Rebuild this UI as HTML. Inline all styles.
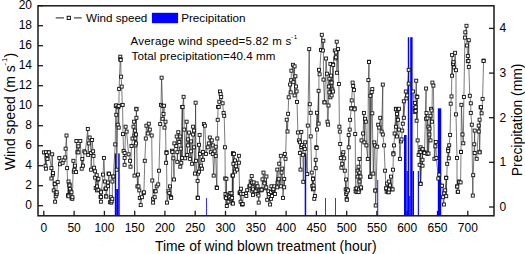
<!DOCTYPE html>
<html><head><meta charset="utf-8"><style>
html,body{margin:0;padding:0;background:#fff;width:525px;height:254px;overflow:hidden}
svg text{font-family:"Liberation Sans",sans-serif;fill:#000}
</style></head><body>
<svg width="525" height="254" viewBox="0 0 525 254" style="position:absolute;left:0;top:0">
<rect x="114.8" y="153.4" width="1.40" height="62.40" fill="#0000ff"/>
<rect x="116.2" y="189" width="2.00" height="26.80" fill="#0000ff"/>
<rect x="118.2" y="153.4" width="1.50" height="62.40" fill="#0000ff"/>
<rect x="206.2" y="198.0" width="0.80" height="17.80" fill="#0000ff"/>
<rect x="304.7" y="153.3" width="1.50" height="62.50" fill="#0000ff"/>
<rect x="325.2" y="198" width="0.80" height="17.80" fill="#0000ff"/>
<rect x="335.1" y="198" width="0.80" height="17.80" fill="#0000ff"/>
<rect x="377.3" y="180" width="0.90" height="35.80" fill="#0000ff"/>
<rect x="404.0" y="135" width="2.60" height="80.80" fill="#0000ff"/>
<rect x="406.6" y="171" width="1.20" height="44.80" fill="#0000ff"/>
<rect x="407.8" y="37.2" width="1.40" height="178.60" fill="#0000ff"/>
<rect x="409.2" y="196" width="1.00" height="19.80" fill="#0000ff"/>
<rect x="410.2" y="37.2" width="2.40" height="178.60" fill="#0000ff"/>
<rect x="412.6" y="171" width="1.40" height="44.80" fill="#0000ff"/>
<rect x="417.8" y="171" width="1.10" height="44.80" fill="#0000ff"/>
<rect x="437.8" y="108.3" width="3.40" height="107.50" fill="#0000ff"/>
<polyline points="43.9,152.4 45.5,165.7 45.9,152.2 45.9,168.7 46.9,154.9 47.4,158.9 48.8,152.2 48.8,152.4 51.4,168.1 51.4,178.5 52.2,154.3 52.8,174.6 53.0,173.0 53.7,190.4 54.7,183.5 54.8,184.1 55.1,201.7 55.7,192.4 55.7,196.3 56.6,194.2 56.7,192.3 57.7,182.1 59.3,157.9 60.0,164.2 62.6,162.8 63.6,160.2 65.2,157.5 65.6,148.7 66.5,135.5 67.1,168.1 68.1,195.4 68.5,181.5 68.5,195.0 68.5,196.3 69.5,184.5 69.5,185.4 69.9,189.0 70.7,191.5 71.5,192.3 71.6,198.3 72.3,198.8 72.4,197.2 73.4,160.8 73.8,171.7 74.4,169.7 75.0,165.7 76.1,172.1 76.4,141.0 77.4,152.2 78.4,146.3 78.4,152.4 80.3,141.0 81.7,168.7 82.3,158.9 82.9,165.7 84.3,151.3 85.2,152.4 87.8,129.0 88.2,154.9 88.8,143.4 89.6,137.5 91.1,153.0 91.1,169.7 92.1,140.0 93.1,151.3 93.5,155.9 94.1,167.7 95.1,171.3 95.1,177.6 95.7,188.0 96.7,175.2 97.0,186.4 97.0,190.4 98.0,179.5 98.4,178.8 98.4,189.8 100.6,196.9 100.9,196.9 100.9,201.7 101.0,191.5 101.0,192.3 101.0,196.9 103.0,174.6 103.9,157.9 104.9,181.5 105.4,188.9 105.9,188.4 105.9,196.3 106.3,196.5 107.9,182.5 108.1,186.2 108.5,173.6 109.0,173.8 109.9,202.2 110.8,197.2 111.3,202.6 111.6,201.3 112.3,198.8 112.4,181.5 112.8,176.6 113.4,176.5 115.2,144.4 115.8,106.0 116.3,105.3 116.3,114.8 116.7,169.7 117.7,124.7 118.3,107.2 118.7,106.0 118.7,127.6 119.1,88.9 120.3,56.7 120.3,59.3 120.7,60.0 121.1,76.7 121.7,86.6 122.3,105.0 122.6,104.9 123.0,134.1 123.6,150.9 124.6,153.0 124.6,157.9 124.6,164.8 125.6,126.7 126.6,131.6 128.6,154.3 130.1,160.8 130.5,166.7 131.5,146.0 132.5,138.5 133.5,126.7 134.1,121.7 134.5,135.5 134.5,175.6 134.9,130.6 135.4,138.5 135.4,145.4 136.0,134.5 136.0,143.4 136.4,108.8 136.4,109.3 136.4,117.8 137.4,186.4 138.0,174.6 138.5,186.4 139.3,190.4 139.8,197.9 140.7,205.1 141.9,197.2 143.6,193.1 143.9,192.3 144.8,160.8 145.8,138.5 146.4,125.7 147.8,133.5 148.8,123.7 149.8,129.6 151.7,135.5 152.3,180.5 153.1,198.8 153.1,202.6 154.7,197.2 155.0,191.2 155.7,191.3 156.7,186.4 158.2,184.4 159.0,170.7 160.2,124.1 161.0,104.9 161.6,77.7 162.6,106.0 162.6,118.8 163.5,113.9 164.1,105.7 164.5,127.6 165.5,121.7 166.1,162.8 166.5,152.2 166.5,153.0 167.0,202.6 168.5,191.3 169.3,193.1 170.0,186.4 170.8,196.9 171.2,197.9 172.0,150.7 172.4,152.0 173.4,158.3 174.0,179.5 174.4,143.4 176.3,145.9 176.7,136.5 177.3,152.2 177.3,161.8 178.3,132.2 179.3,142.0 180.3,136.5 180.3,166.7 180.7,148.7 181.3,162.8 182.2,106.9 182.2,157.9 182.6,107.0 183.6,96.8 184.2,129.6 185.2,158.3 186.6,121.7 187.2,154.9 188.1,139.4 188.1,145.4 189.1,132.6 190.1,158.9 191.1,141.4 191.1,151.3 192.1,163.8 193.1,126.7 193.1,134.5 194.1,130.6 194.1,147.3 195.0,173.6 195.6,102.7 196.0,160.8 197.6,180.9 197.6,197.6 197.9,197.9 198.0,173.6 199.0,144.8 199.0,171.7 199.6,134.9 200.0,153.9 200.9,165.7 201.9,168.7 202.9,151.9 202.9,159.8 203.9,124.1 204.9,125.7 205.9,153.9 207.8,147.3 208.8,143.4 209.8,137.5 210.8,152.2 211.8,140.4 212.8,145.4 212.8,153.9 213.7,175.6 214.7,151.3 215.7,146.7 215.7,155.9 216.7,187.4 216.9,188.0 217.3,138.5 217.7,119.8 218.1,106.9 218.7,107.0 219.3,101.7 220.0,91.5 220.6,93.9 221.2,97.0 222.6,103.3 223.6,112.9 224.2,115.8 225.0,147.3 225.2,178.5 225.5,194.0 225.6,197.2 226.1,198.1 226.4,178.8 226.8,206.0 227.4,201.7 227.5,195.3 228.4,201.6 229.2,195.3 229.5,197.2 230.2,193.1 230.8,199.2 231.5,193.3 232.1,197.9 232.4,175.6 232.4,203.2 233.0,153.2 233.0,153.9 233.0,175.5 233.0,203.6 233.4,163.8 234.0,153.9 235.0,160.4 235.0,171.6 235.9,166.3 236.9,169.6 238.9,155.8 238.9,162.7 239.6,193.1 239.9,192.2 240.6,201.7 240.9,188.7 241.1,193.7 241.9,204.3 242.5,204.5 242.6,204.0 243.4,194.0 245.9,193.6 246.3,196.0 247.2,190.2 249.3,186.3 250.1,185.5 250.7,181.4 251.7,176.1 251.7,190.7 252.0,182.6 252.7,187.3 253.0,189.3 253.0,194.9 253.7,182.4 255.6,191.3 256.6,183.4 256.8,187.4 257.6,186.3 257.7,194.0 258.5,195.5 258.7,202.6 259.6,190.3 261.5,189.3 261.5,190.3 261.6,189.7 262.5,179.4 263.5,172.6 264.4,182.6 264.5,183.4 265.5,188.3 266.3,187.4 266.4,176.5 267.2,199.8 268.4,191.3 269.1,194.0 270.1,204.5 271.0,198.8 271.1,192.0 271.4,186.3 272.0,196.0 273.0,190.2 273.3,190.3 273.4,188.9 274.3,186.3 274.9,194.0 277.3,169.6 277.3,187.3 277.7,182.6 278.3,180.4 278.7,178.8 279.2,163.7 280.8,155.8 280.8,186.3 281.6,172.6 282.2,168.6 283.0,197.9 284.2,178.9 284.2,187.3 284.8,153.9 285.5,158.8 286.7,119.7 287.5,131.5 288.1,113.8 288.7,97.3 290.1,84.5 290.7,92.4 291.1,80.2 291.4,70.7 293.0,64.8 293.4,82.2 294.6,66.4 294.6,95.4 295.4,76.3 296.0,86.5 296.6,91.4 297.0,101.9 297.9,132.5 298.9,140.4 299.9,142.3 299.9,152.9 300.5,169.6 301.3,131.9 301.3,147.0 301.9,144.9 302.9,154.8 303.3,181.8 303.9,147.2 304.8,148.9 305.2,142.3 307.2,174.1 307.8,125.6 309.2,49.1 309.8,104.2 310.7,112.8 310.7,136.4 311.7,172.6 312.3,186.0 313.0,178.4 313.0,189.3 313.1,178.9 313.5,185.5 313.7,188.7 314.3,198.8 314.9,196.0 315.7,159.8 315.7,168.2 316.3,147.2 316.6,148.0 317.0,112.8 317.0,129.5 318.6,90.8 318.6,123.6 319.0,69.8 319.6,74.3 321.0,49.9 321.8,34.8 322.9,50.5 323.3,40.7 323.5,79.6 324.5,102.2 324.5,102.4 326.1,58.5 326.9,73.7 327.5,121.7 328.1,124.6 328.5,105.5 328.9,86.5 329.4,78.6 329.4,92.4 330.4,63.9 330.4,82.6 330.4,97.3 331.0,75.7 331.6,82.6 331.6,95.4 332.4,89.5 333.0,64.3 333.0,91.5 333.2,64.9 334.8,50.5 335.5,58.4 335.9,57.3 336.1,52.5 336.7,41.7 336.9,72.8 338.1,49.1 338.9,84.0 339.4,126.7 339.8,131.6 340.2,144.0 340.8,157.9 341.4,167.7 342.2,163.8 342.8,153.9 343.4,152.2 344.2,158.3 344.8,170.7 345.7,189.4 346.1,179.5 346.2,194.0 346.7,192.3 346.7,198.8 346.8,189.3 346.8,199.8 348.1,190.4 348.7,134.9 348.7,147.3 349.7,129.6 350.1,119.8 351.3,108.2 351.3,108.5 351.7,100.4 352.6,82.6 353.2,86.0 354.0,89.9 354.6,108.2 354.6,109.3 355.2,134.1 355.6,191.3 355.7,188.7 356.6,188.4 356.7,192.1 357.6,170.7 357.6,176.6 358.5,166.7 358.5,191.7 358.6,192.1 359.1,189.4 359.5,158.9 359.5,172.6 359.5,181.5 360.5,176.6 360.9,188.3 361.1,187.4 361.5,140.4 363.1,133.5 363.9,112.9 364.4,142.4 365.0,118.8 365.8,121.7 366.4,145.4 367.8,158.9 368.4,80.1 369.0,61.7 369.0,62.0 370.0,176.9 370.4,95.8 370.4,176.6 371.7,91.9 372.3,89.1 372.3,113.3 373.3,173.6 374.3,142.4 374.9,145.4 375.3,190.4 375.3,190.6 375.7,205.5 377.2,146.7 378.2,124.7 379.2,127.6 380.2,117.8 381.6,131.6 382.8,84.6 382.8,134.5 384.1,145.4 385.1,170.7 386.1,188.4 386.2,188.3 386.7,191.7 387.1,183.5 388.1,192.1 388.7,192.3 389.1,181.5 389.1,189.4 390.0,185.4 391.0,176.6 391.9,189.3 392.6,189.4 393.0,169.7 393.4,153.2 393.4,154.3 394.0,145.4 394.6,133.5 395.9,108.8 395.9,109.3 395.9,126.7 396.9,113.9 396.9,136.5 397.9,109.3 397.9,119.8 398.9,108.8 398.9,129.6 399.9,158.9 400.9,141.4 401.6,139.4 402.2,130.6 402.8,123.7 403.8,101.3 403.8,117.8 405.8,91.5 406.4,98.4 407.2,95.4 408.7,69.8 408.7,83.6 413.1,91.5 414.6,108.0 414.7,111.9 415.0,102.9 415.6,107.2 415.6,110.9 416.2,80.7 416.6,96.4 416.6,120.7 417.3,97.0 417.6,140.4 418.6,154.9 419.6,152.2 419.6,164.8 420.5,183.6 420.6,147.3 420.6,152.0 420.6,183.9 422.5,149.3 422.5,159.8 422.5,165.7 422.6,149.2 424.5,152.2 424.5,153.0 426.1,88.5 426.1,118.8 426.5,112.9 427.4,153.9 427.5,118.4 428.4,126.7 428.5,153.5 429.4,134.5 429.5,128.6 430.5,115.8 430.5,140.4 431.1,108.8 431.5,110.5 431.9,121.7 432.4,82.6 433.4,85.6 434.4,158.8 435.4,146.3 435.8,142.0 436.4,157.9 438.3,178.5 439.3,174.6 441.3,185.8 442.1,185.7 442.9,197.2 443.9,204.5 444.2,193.3 445.2,190.3 446.2,177.7 446.2,177.9 446.2,196.2 447.2,163.8 448.2,149.2 448.2,151.0 448.8,158.3 449.2,145.3 450.1,134.9 450.7,103.7 451.5,96.4 452.1,54.9 452.1,75.7 453.1,63.9 453.5,62.2 454.1,67.5 455.1,52.8 456.0,70.2 456.0,114.4 457.0,157.9 457.0,186.4 457.3,186.6 457.7,192.0 458.0,191.7 459.0,181.5 459.1,182.2 460.6,182.4 461.0,151.8 461.0,152.0 461.4,104.8 462.5,134.5 463.3,143.3 463.9,97.0 464.9,37.6 465.3,32.3 466.5,25.8 466.9,45.5 467.8,55.9 467.8,61.2 468.4,61.0 468.8,40.2 468.8,66.9 469.8,95.8 470.8,103.3 470.8,112.9 471.8,124.7 472.8,195.6 473.2,175.2 474.3,144.3 474.7,130.6 474.7,153.0 476.7,158.8 478.7,125.6 478.7,131.5 479.6,119.7 479.6,151.8 479.6,152.4 480.6,107.4 481.0,107.2 481.6,113.3 482.6,98.9 483.6,60.6 483.6,61.0" fill="none" stroke="#222" stroke-width="0.6"/>
<rect x="42.4" y="150.9" width="3.0" height="3.0" fill="#fff" stroke="#111" stroke-width="0.9"/>
<rect x="44.0" y="164.2" width="3.0" height="3.0" fill="#fff" stroke="#111" stroke-width="0.9"/>
<rect x="44.4" y="150.7" width="3.0" height="3.0" fill="#fff" stroke="#111" stroke-width="0.9"/>
<rect x="44.4" y="167.2" width="3.0" height="3.0" fill="#fff" stroke="#111" stroke-width="0.9"/>
<rect x="45.4" y="153.4" width="3.0" height="3.0" fill="#fff" stroke="#111" stroke-width="0.9"/>
<rect x="45.9" y="157.4" width="3.0" height="3.0" fill="#fff" stroke="#111" stroke-width="0.9"/>
<rect x="47.3" y="150.7" width="3.0" height="3.0" fill="#fff" stroke="#111" stroke-width="0.9"/>
<rect x="47.3" y="150.9" width="3.0" height="3.0" fill="#fff" stroke="#111" stroke-width="0.9"/>
<rect x="49.9" y="166.6" width="3.0" height="3.0" fill="#fff" stroke="#111" stroke-width="0.9"/>
<rect x="49.9" y="177.0" width="3.0" height="3.0" fill="#fff" stroke="#111" stroke-width="0.9"/>
<rect x="50.7" y="152.8" width="3.0" height="3.0" fill="#fff" stroke="#111" stroke-width="0.9"/>
<rect x="51.3" y="173.1" width="3.0" height="3.0" fill="#fff" stroke="#111" stroke-width="0.9"/>
<rect x="51.5" y="171.5" width="3.0" height="3.0" fill="#fff" stroke="#111" stroke-width="0.9"/>
<rect x="52.2" y="188.9" width="3.0" height="3.0" fill="#fff" stroke="#111" stroke-width="0.9"/>
<rect x="53.2" y="182.0" width="3.0" height="3.0" fill="#fff" stroke="#111" stroke-width="0.9"/>
<rect x="53.3" y="182.6" width="3.0" height="3.0" fill="#fff" stroke="#111" stroke-width="0.9"/>
<rect x="53.6" y="200.2" width="3.0" height="3.0" fill="#fff" stroke="#111" stroke-width="0.9"/>
<rect x="54.2" y="190.9" width="3.0" height="3.0" fill="#fff" stroke="#111" stroke-width="0.9"/>
<rect x="54.2" y="194.8" width="3.0" height="3.0" fill="#fff" stroke="#111" stroke-width="0.9"/>
<rect x="55.1" y="192.7" width="3.0" height="3.0" fill="#fff" stroke="#111" stroke-width="0.9"/>
<rect x="55.2" y="190.8" width="3.0" height="3.0" fill="#fff" stroke="#111" stroke-width="0.9"/>
<rect x="56.2" y="180.6" width="3.0" height="3.0" fill="#fff" stroke="#111" stroke-width="0.9"/>
<rect x="57.8" y="156.4" width="3.0" height="3.0" fill="#fff" stroke="#111" stroke-width="0.9"/>
<rect x="58.5" y="162.7" width="3.0" height="3.0" fill="#fff" stroke="#111" stroke-width="0.9"/>
<rect x="61.1" y="161.3" width="3.0" height="3.0" fill="#fff" stroke="#111" stroke-width="0.9"/>
<rect x="62.1" y="158.7" width="3.0" height="3.0" fill="#fff" stroke="#111" stroke-width="0.9"/>
<rect x="63.7" y="156.0" width="3.0" height="3.0" fill="#fff" stroke="#111" stroke-width="0.9"/>
<rect x="64.1" y="147.2" width="3.0" height="3.0" fill="#fff" stroke="#111" stroke-width="0.9"/>
<rect x="65.0" y="134.0" width="3.0" height="3.0" fill="#fff" stroke="#111" stroke-width="0.9"/>
<rect x="65.6" y="166.6" width="3.0" height="3.0" fill="#fff" stroke="#111" stroke-width="0.9"/>
<rect x="66.6" y="193.9" width="3.0" height="3.0" fill="#fff" stroke="#111" stroke-width="0.9"/>
<rect x="67.0" y="180.0" width="3.0" height="3.0" fill="#fff" stroke="#111" stroke-width="0.9"/>
<rect x="67.0" y="193.5" width="3.0" height="3.0" fill="#fff" stroke="#111" stroke-width="0.9"/>
<rect x="67.0" y="194.8" width="3.0" height="3.0" fill="#fff" stroke="#111" stroke-width="0.9"/>
<rect x="68.0" y="183.0" width="3.0" height="3.0" fill="#fff" stroke="#111" stroke-width="0.9"/>
<rect x="68.0" y="183.9" width="3.0" height="3.0" fill="#fff" stroke="#111" stroke-width="0.9"/>
<rect x="68.4" y="187.5" width="3.0" height="3.0" fill="#fff" stroke="#111" stroke-width="0.9"/>
<rect x="69.2" y="190.0" width="3.0" height="3.0" fill="#fff" stroke="#111" stroke-width="0.9"/>
<rect x="70.0" y="190.8" width="3.0" height="3.0" fill="#fff" stroke="#111" stroke-width="0.9"/>
<rect x="70.1" y="196.8" width="3.0" height="3.0" fill="#fff" stroke="#111" stroke-width="0.9"/>
<rect x="70.8" y="197.3" width="3.0" height="3.0" fill="#fff" stroke="#111" stroke-width="0.9"/>
<rect x="70.9" y="195.7" width="3.0" height="3.0" fill="#fff" stroke="#111" stroke-width="0.9"/>
<rect x="71.9" y="159.3" width="3.0" height="3.0" fill="#fff" stroke="#111" stroke-width="0.9"/>
<rect x="72.3" y="170.2" width="3.0" height="3.0" fill="#fff" stroke="#111" stroke-width="0.9"/>
<rect x="72.9" y="168.2" width="3.0" height="3.0" fill="#fff" stroke="#111" stroke-width="0.9"/>
<rect x="73.5" y="164.2" width="3.0" height="3.0" fill="#fff" stroke="#111" stroke-width="0.9"/>
<rect x="74.6" y="170.6" width="3.0" height="3.0" fill="#fff" stroke="#111" stroke-width="0.9"/>
<rect x="74.9" y="139.5" width="3.0" height="3.0" fill="#fff" stroke="#111" stroke-width="0.9"/>
<rect x="75.9" y="150.7" width="3.0" height="3.0" fill="#fff" stroke="#111" stroke-width="0.9"/>
<rect x="76.9" y="144.8" width="3.0" height="3.0" fill="#fff" stroke="#111" stroke-width="0.9"/>
<rect x="76.9" y="150.9" width="3.0" height="3.0" fill="#fff" stroke="#111" stroke-width="0.9"/>
<rect x="78.8" y="139.5" width="3.0" height="3.0" fill="#fff" stroke="#111" stroke-width="0.9"/>
<rect x="80.2" y="167.2" width="3.0" height="3.0" fill="#fff" stroke="#111" stroke-width="0.9"/>
<rect x="80.8" y="157.4" width="3.0" height="3.0" fill="#fff" stroke="#111" stroke-width="0.9"/>
<rect x="81.4" y="164.2" width="3.0" height="3.0" fill="#fff" stroke="#111" stroke-width="0.9"/>
<rect x="82.8" y="149.8" width="3.0" height="3.0" fill="#fff" stroke="#111" stroke-width="0.9"/>
<rect x="83.7" y="150.9" width="3.0" height="3.0" fill="#fff" stroke="#111" stroke-width="0.9"/>
<rect x="86.3" y="127.5" width="3.0" height="3.0" fill="#fff" stroke="#111" stroke-width="0.9"/>
<rect x="86.7" y="153.4" width="3.0" height="3.0" fill="#fff" stroke="#111" stroke-width="0.9"/>
<rect x="87.3" y="141.9" width="3.0" height="3.0" fill="#fff" stroke="#111" stroke-width="0.9"/>
<rect x="88.1" y="136.0" width="3.0" height="3.0" fill="#fff" stroke="#111" stroke-width="0.9"/>
<rect x="89.6" y="151.5" width="3.0" height="3.0" fill="#fff" stroke="#111" stroke-width="0.9"/>
<rect x="89.6" y="168.2" width="3.0" height="3.0" fill="#fff" stroke="#111" stroke-width="0.9"/>
<rect x="90.6" y="138.5" width="3.0" height="3.0" fill="#fff" stroke="#111" stroke-width="0.9"/>
<rect x="91.6" y="149.8" width="3.0" height="3.0" fill="#fff" stroke="#111" stroke-width="0.9"/>
<rect x="92.0" y="154.4" width="3.0" height="3.0" fill="#fff" stroke="#111" stroke-width="0.9"/>
<rect x="92.6" y="166.2" width="3.0" height="3.0" fill="#fff" stroke="#111" stroke-width="0.9"/>
<rect x="93.6" y="169.8" width="3.0" height="3.0" fill="#fff" stroke="#111" stroke-width="0.9"/>
<rect x="93.6" y="176.1" width="3.0" height="3.0" fill="#fff" stroke="#111" stroke-width="0.9"/>
<rect x="94.2" y="186.5" width="3.0" height="3.0" fill="#fff" stroke="#111" stroke-width="0.9"/>
<rect x="95.2" y="173.7" width="3.0" height="3.0" fill="#fff" stroke="#111" stroke-width="0.9"/>
<rect x="95.5" y="184.9" width="3.0" height="3.0" fill="#fff" stroke="#111" stroke-width="0.9"/>
<rect x="95.5" y="188.9" width="3.0" height="3.0" fill="#fff" stroke="#111" stroke-width="0.9"/>
<rect x="96.5" y="178.0" width="3.0" height="3.0" fill="#fff" stroke="#111" stroke-width="0.9"/>
<rect x="96.9" y="177.3" width="3.0" height="3.0" fill="#fff" stroke="#111" stroke-width="0.9"/>
<rect x="96.9" y="188.3" width="3.0" height="3.0" fill="#fff" stroke="#111" stroke-width="0.9"/>
<rect x="99.1" y="195.4" width="3.0" height="3.0" fill="#fff" stroke="#111" stroke-width="0.9"/>
<rect x="99.4" y="195.4" width="3.0" height="3.0" fill="#fff" stroke="#111" stroke-width="0.9"/>
<rect x="99.4" y="200.2" width="3.0" height="3.0" fill="#fff" stroke="#111" stroke-width="0.9"/>
<rect x="99.5" y="190.0" width="3.0" height="3.0" fill="#fff" stroke="#111" stroke-width="0.9"/>
<rect x="99.5" y="190.8" width="3.0" height="3.0" fill="#fff" stroke="#111" stroke-width="0.9"/>
<rect x="99.5" y="195.4" width="3.0" height="3.0" fill="#fff" stroke="#111" stroke-width="0.9"/>
<rect x="101.5" y="173.1" width="3.0" height="3.0" fill="#fff" stroke="#111" stroke-width="0.9"/>
<rect x="102.4" y="156.4" width="3.0" height="3.0" fill="#fff" stroke="#111" stroke-width="0.9"/>
<rect x="103.4" y="180.0" width="3.0" height="3.0" fill="#fff" stroke="#111" stroke-width="0.9"/>
<rect x="103.9" y="187.4" width="3.0" height="3.0" fill="#fff" stroke="#111" stroke-width="0.9"/>
<rect x="104.4" y="186.9" width="3.0" height="3.0" fill="#fff" stroke="#111" stroke-width="0.9"/>
<rect x="104.4" y="194.8" width="3.0" height="3.0" fill="#fff" stroke="#111" stroke-width="0.9"/>
<rect x="104.8" y="195.0" width="3.0" height="3.0" fill="#fff" stroke="#111" stroke-width="0.9"/>
<rect x="106.4" y="181.0" width="3.0" height="3.0" fill="#fff" stroke="#111" stroke-width="0.9"/>
<rect x="106.6" y="184.7" width="3.0" height="3.0" fill="#fff" stroke="#111" stroke-width="0.9"/>
<rect x="107.0" y="172.1" width="3.0" height="3.0" fill="#fff" stroke="#111" stroke-width="0.9"/>
<rect x="107.5" y="172.3" width="3.0" height="3.0" fill="#fff" stroke="#111" stroke-width="0.9"/>
<rect x="108.4" y="200.7" width="3.0" height="3.0" fill="#fff" stroke="#111" stroke-width="0.9"/>
<rect x="109.3" y="195.7" width="3.0" height="3.0" fill="#fff" stroke="#111" stroke-width="0.9"/>
<rect x="109.8" y="201.1" width="3.0" height="3.0" fill="#fff" stroke="#111" stroke-width="0.9"/>
<rect x="110.1" y="199.8" width="3.0" height="3.0" fill="#fff" stroke="#111" stroke-width="0.9"/>
<rect x="110.8" y="197.3" width="3.0" height="3.0" fill="#fff" stroke="#111" stroke-width="0.9"/>
<rect x="110.9" y="180.0" width="3.0" height="3.0" fill="#fff" stroke="#111" stroke-width="0.9"/>
<rect x="111.3" y="175.1" width="3.0" height="3.0" fill="#fff" stroke="#111" stroke-width="0.9"/>
<rect x="111.9" y="175.0" width="3.0" height="3.0" fill="#fff" stroke="#111" stroke-width="0.9"/>
<rect x="113.7" y="142.9" width="3.0" height="3.0" fill="#fff" stroke="#111" stroke-width="0.9"/>
<rect x="114.3" y="104.5" width="3.0" height="3.0" fill="#fff" stroke="#111" stroke-width="0.9"/>
<rect x="114.8" y="103.8" width="3.0" height="3.0" fill="#fff" stroke="#111" stroke-width="0.9"/>
<rect x="114.8" y="113.3" width="3.0" height="3.0" fill="#fff" stroke="#111" stroke-width="0.9"/>
<rect x="115.2" y="168.2" width="3.0" height="3.0" fill="#fff" stroke="#111" stroke-width="0.9"/>
<rect x="116.2" y="123.2" width="3.0" height="3.0" fill="#fff" stroke="#111" stroke-width="0.9"/>
<rect x="116.8" y="105.7" width="3.0" height="3.0" fill="#fff" stroke="#111" stroke-width="0.9"/>
<rect x="117.2" y="104.5" width="3.0" height="3.0" fill="#fff" stroke="#111" stroke-width="0.9"/>
<rect x="117.2" y="126.1" width="3.0" height="3.0" fill="#fff" stroke="#111" stroke-width="0.9"/>
<rect x="117.6" y="87.4" width="3.0" height="3.0" fill="#fff" stroke="#111" stroke-width="0.9"/>
<rect x="118.8" y="55.2" width="3.0" height="3.0" fill="#fff" stroke="#111" stroke-width="0.9"/>
<rect x="118.8" y="57.8" width="3.0" height="3.0" fill="#fff" stroke="#111" stroke-width="0.9"/>
<rect x="119.2" y="58.5" width="3.0" height="3.0" fill="#fff" stroke="#111" stroke-width="0.9"/>
<rect x="119.6" y="75.2" width="3.0" height="3.0" fill="#fff" stroke="#111" stroke-width="0.9"/>
<rect x="120.2" y="85.1" width="3.0" height="3.0" fill="#fff" stroke="#111" stroke-width="0.9"/>
<rect x="120.8" y="103.5" width="3.0" height="3.0" fill="#fff" stroke="#111" stroke-width="0.9"/>
<rect x="121.1" y="103.4" width="3.0" height="3.0" fill="#fff" stroke="#111" stroke-width="0.9"/>
<rect x="121.5" y="132.6" width="3.0" height="3.0" fill="#fff" stroke="#111" stroke-width="0.9"/>
<rect x="122.1" y="149.4" width="3.0" height="3.0" fill="#fff" stroke="#111" stroke-width="0.9"/>
<rect x="123.1" y="151.5" width="3.0" height="3.0" fill="#fff" stroke="#111" stroke-width="0.9"/>
<rect x="123.1" y="156.4" width="3.0" height="3.0" fill="#fff" stroke="#111" stroke-width="0.9"/>
<rect x="123.1" y="163.3" width="3.0" height="3.0" fill="#fff" stroke="#111" stroke-width="0.9"/>
<rect x="124.1" y="125.2" width="3.0" height="3.0" fill="#fff" stroke="#111" stroke-width="0.9"/>
<rect x="125.1" y="130.1" width="3.0" height="3.0" fill="#fff" stroke="#111" stroke-width="0.9"/>
<rect x="127.1" y="152.8" width="3.0" height="3.0" fill="#fff" stroke="#111" stroke-width="0.9"/>
<rect x="128.6" y="159.3" width="3.0" height="3.0" fill="#fff" stroke="#111" stroke-width="0.9"/>
<rect x="129.0" y="165.2" width="3.0" height="3.0" fill="#fff" stroke="#111" stroke-width="0.9"/>
<rect x="130.0" y="144.5" width="3.0" height="3.0" fill="#fff" stroke="#111" stroke-width="0.9"/>
<rect x="131.0" y="137.0" width="3.0" height="3.0" fill="#fff" stroke="#111" stroke-width="0.9"/>
<rect x="132.0" y="125.2" width="3.0" height="3.0" fill="#fff" stroke="#111" stroke-width="0.9"/>
<rect x="132.6" y="120.2" width="3.0" height="3.0" fill="#fff" stroke="#111" stroke-width="0.9"/>
<rect x="133.0" y="134.0" width="3.0" height="3.0" fill="#fff" stroke="#111" stroke-width="0.9"/>
<rect x="133.0" y="174.1" width="3.0" height="3.0" fill="#fff" stroke="#111" stroke-width="0.9"/>
<rect x="133.4" y="129.1" width="3.0" height="3.0" fill="#fff" stroke="#111" stroke-width="0.9"/>
<rect x="133.9" y="137.0" width="3.0" height="3.0" fill="#fff" stroke="#111" stroke-width="0.9"/>
<rect x="133.9" y="143.9" width="3.0" height="3.0" fill="#fff" stroke="#111" stroke-width="0.9"/>
<rect x="134.5" y="133.0" width="3.0" height="3.0" fill="#fff" stroke="#111" stroke-width="0.9"/>
<rect x="134.5" y="141.9" width="3.0" height="3.0" fill="#fff" stroke="#111" stroke-width="0.9"/>
<rect x="134.9" y="107.3" width="3.0" height="3.0" fill="#fff" stroke="#111" stroke-width="0.9"/>
<rect x="134.9" y="107.8" width="3.0" height="3.0" fill="#fff" stroke="#111" stroke-width="0.9"/>
<rect x="134.9" y="116.3" width="3.0" height="3.0" fill="#fff" stroke="#111" stroke-width="0.9"/>
<rect x="135.9" y="184.9" width="3.0" height="3.0" fill="#fff" stroke="#111" stroke-width="0.9"/>
<rect x="136.5" y="173.1" width="3.0" height="3.0" fill="#fff" stroke="#111" stroke-width="0.9"/>
<rect x="137.0" y="184.9" width="3.0" height="3.0" fill="#fff" stroke="#111" stroke-width="0.9"/>
<rect x="137.8" y="188.9" width="3.0" height="3.0" fill="#fff" stroke="#111" stroke-width="0.9"/>
<rect x="138.3" y="196.4" width="3.0" height="3.0" fill="#fff" stroke="#111" stroke-width="0.9"/>
<rect x="139.2" y="203.6" width="3.0" height="3.0" fill="#fff" stroke="#111" stroke-width="0.9"/>
<rect x="140.4" y="195.7" width="3.0" height="3.0" fill="#fff" stroke="#111" stroke-width="0.9"/>
<rect x="142.1" y="191.6" width="3.0" height="3.0" fill="#fff" stroke="#111" stroke-width="0.9"/>
<rect x="142.4" y="190.8" width="3.0" height="3.0" fill="#fff" stroke="#111" stroke-width="0.9"/>
<rect x="143.3" y="159.3" width="3.0" height="3.0" fill="#fff" stroke="#111" stroke-width="0.9"/>
<rect x="144.3" y="137.0" width="3.0" height="3.0" fill="#fff" stroke="#111" stroke-width="0.9"/>
<rect x="144.9" y="124.2" width="3.0" height="3.0" fill="#fff" stroke="#111" stroke-width="0.9"/>
<rect x="146.3" y="132.0" width="3.0" height="3.0" fill="#fff" stroke="#111" stroke-width="0.9"/>
<rect x="147.3" y="122.2" width="3.0" height="3.0" fill="#fff" stroke="#111" stroke-width="0.9"/>
<rect x="148.3" y="128.1" width="3.0" height="3.0" fill="#fff" stroke="#111" stroke-width="0.9"/>
<rect x="150.2" y="134.0" width="3.0" height="3.0" fill="#fff" stroke="#111" stroke-width="0.9"/>
<rect x="150.8" y="179.0" width="3.0" height="3.0" fill="#fff" stroke="#111" stroke-width="0.9"/>
<rect x="151.6" y="197.3" width="3.0" height="3.0" fill="#fff" stroke="#111" stroke-width="0.9"/>
<rect x="151.6" y="201.1" width="3.0" height="3.0" fill="#fff" stroke="#111" stroke-width="0.9"/>
<rect x="153.2" y="195.7" width="3.0" height="3.0" fill="#fff" stroke="#111" stroke-width="0.9"/>
<rect x="153.5" y="189.7" width="3.0" height="3.0" fill="#fff" stroke="#111" stroke-width="0.9"/>
<rect x="154.2" y="189.8" width="3.0" height="3.0" fill="#fff" stroke="#111" stroke-width="0.9"/>
<rect x="155.2" y="184.9" width="3.0" height="3.0" fill="#fff" stroke="#111" stroke-width="0.9"/>
<rect x="156.7" y="182.9" width="3.0" height="3.0" fill="#fff" stroke="#111" stroke-width="0.9"/>
<rect x="157.5" y="169.2" width="3.0" height="3.0" fill="#fff" stroke="#111" stroke-width="0.9"/>
<rect x="158.7" y="122.6" width="3.0" height="3.0" fill="#fff" stroke="#111" stroke-width="0.9"/>
<rect x="159.5" y="103.4" width="3.0" height="3.0" fill="#fff" stroke="#111" stroke-width="0.9"/>
<rect x="160.1" y="76.2" width="3.0" height="3.0" fill="#fff" stroke="#111" stroke-width="0.9"/>
<rect x="161.1" y="104.5" width="3.0" height="3.0" fill="#fff" stroke="#111" stroke-width="0.9"/>
<rect x="161.1" y="117.3" width="3.0" height="3.0" fill="#fff" stroke="#111" stroke-width="0.9"/>
<rect x="162.0" y="112.4" width="3.0" height="3.0" fill="#fff" stroke="#111" stroke-width="0.9"/>
<rect x="162.6" y="104.2" width="3.0" height="3.0" fill="#fff" stroke="#111" stroke-width="0.9"/>
<rect x="163.0" y="126.1" width="3.0" height="3.0" fill="#fff" stroke="#111" stroke-width="0.9"/>
<rect x="164.0" y="120.2" width="3.0" height="3.0" fill="#fff" stroke="#111" stroke-width="0.9"/>
<rect x="164.6" y="161.3" width="3.0" height="3.0" fill="#fff" stroke="#111" stroke-width="0.9"/>
<rect x="165.0" y="150.7" width="3.0" height="3.0" fill="#fff" stroke="#111" stroke-width="0.9"/>
<rect x="165.0" y="151.5" width="3.0" height="3.0" fill="#fff" stroke="#111" stroke-width="0.9"/>
<rect x="165.5" y="201.1" width="3.0" height="3.0" fill="#fff" stroke="#111" stroke-width="0.9"/>
<rect x="167.0" y="189.8" width="3.0" height="3.0" fill="#fff" stroke="#111" stroke-width="0.9"/>
<rect x="167.8" y="191.6" width="3.0" height="3.0" fill="#fff" stroke="#111" stroke-width="0.9"/>
<rect x="168.5" y="184.9" width="3.0" height="3.0" fill="#fff" stroke="#111" stroke-width="0.9"/>
<rect x="169.3" y="195.4" width="3.0" height="3.0" fill="#fff" stroke="#111" stroke-width="0.9"/>
<rect x="169.7" y="196.4" width="3.0" height="3.0" fill="#fff" stroke="#111" stroke-width="0.9"/>
<rect x="170.5" y="149.2" width="3.0" height="3.0" fill="#fff" stroke="#111" stroke-width="0.9"/>
<rect x="170.9" y="150.5" width="3.0" height="3.0" fill="#fff" stroke="#111" stroke-width="0.9"/>
<rect x="171.9" y="156.8" width="3.0" height="3.0" fill="#fff" stroke="#111" stroke-width="0.9"/>
<rect x="172.5" y="178.0" width="3.0" height="3.0" fill="#fff" stroke="#111" stroke-width="0.9"/>
<rect x="172.9" y="141.9" width="3.0" height="3.0" fill="#fff" stroke="#111" stroke-width="0.9"/>
<rect x="174.8" y="144.4" width="3.0" height="3.0" fill="#fff" stroke="#111" stroke-width="0.9"/>
<rect x="175.2" y="135.0" width="3.0" height="3.0" fill="#fff" stroke="#111" stroke-width="0.9"/>
<rect x="175.8" y="150.7" width="3.0" height="3.0" fill="#fff" stroke="#111" stroke-width="0.9"/>
<rect x="175.8" y="160.3" width="3.0" height="3.0" fill="#fff" stroke="#111" stroke-width="0.9"/>
<rect x="176.8" y="130.7" width="3.0" height="3.0" fill="#fff" stroke="#111" stroke-width="0.9"/>
<rect x="177.8" y="140.5" width="3.0" height="3.0" fill="#fff" stroke="#111" stroke-width="0.9"/>
<rect x="178.8" y="135.0" width="3.0" height="3.0" fill="#fff" stroke="#111" stroke-width="0.9"/>
<rect x="178.8" y="165.2" width="3.0" height="3.0" fill="#fff" stroke="#111" stroke-width="0.9"/>
<rect x="179.2" y="147.2" width="3.0" height="3.0" fill="#fff" stroke="#111" stroke-width="0.9"/>
<rect x="179.8" y="161.3" width="3.0" height="3.0" fill="#fff" stroke="#111" stroke-width="0.9"/>
<rect x="180.7" y="105.4" width="3.0" height="3.0" fill="#fff" stroke="#111" stroke-width="0.9"/>
<rect x="180.7" y="156.4" width="3.0" height="3.0" fill="#fff" stroke="#111" stroke-width="0.9"/>
<rect x="181.1" y="105.5" width="3.0" height="3.0" fill="#fff" stroke="#111" stroke-width="0.9"/>
<rect x="182.1" y="95.3" width="3.0" height="3.0" fill="#fff" stroke="#111" stroke-width="0.9"/>
<rect x="182.7" y="128.1" width="3.0" height="3.0" fill="#fff" stroke="#111" stroke-width="0.9"/>
<rect x="183.7" y="156.8" width="3.0" height="3.0" fill="#fff" stroke="#111" stroke-width="0.9"/>
<rect x="185.1" y="120.2" width="3.0" height="3.0" fill="#fff" stroke="#111" stroke-width="0.9"/>
<rect x="185.7" y="153.4" width="3.0" height="3.0" fill="#fff" stroke="#111" stroke-width="0.9"/>
<rect x="186.6" y="137.9" width="3.0" height="3.0" fill="#fff" stroke="#111" stroke-width="0.9"/>
<rect x="186.6" y="143.9" width="3.0" height="3.0" fill="#fff" stroke="#111" stroke-width="0.9"/>
<rect x="187.6" y="131.1" width="3.0" height="3.0" fill="#fff" stroke="#111" stroke-width="0.9"/>
<rect x="188.6" y="157.4" width="3.0" height="3.0" fill="#fff" stroke="#111" stroke-width="0.9"/>
<rect x="189.6" y="139.9" width="3.0" height="3.0" fill="#fff" stroke="#111" stroke-width="0.9"/>
<rect x="189.6" y="149.8" width="3.0" height="3.0" fill="#fff" stroke="#111" stroke-width="0.9"/>
<rect x="190.6" y="162.3" width="3.0" height="3.0" fill="#fff" stroke="#111" stroke-width="0.9"/>
<rect x="191.6" y="125.2" width="3.0" height="3.0" fill="#fff" stroke="#111" stroke-width="0.9"/>
<rect x="191.6" y="133.0" width="3.0" height="3.0" fill="#fff" stroke="#111" stroke-width="0.9"/>
<rect x="192.6" y="129.1" width="3.0" height="3.0" fill="#fff" stroke="#111" stroke-width="0.9"/>
<rect x="192.6" y="145.8" width="3.0" height="3.0" fill="#fff" stroke="#111" stroke-width="0.9"/>
<rect x="193.5" y="172.1" width="3.0" height="3.0" fill="#fff" stroke="#111" stroke-width="0.9"/>
<rect x="194.1" y="101.2" width="3.0" height="3.0" fill="#fff" stroke="#111" stroke-width="0.9"/>
<rect x="194.5" y="159.3" width="3.0" height="3.0" fill="#fff" stroke="#111" stroke-width="0.9"/>
<rect x="196.1" y="179.4" width="3.0" height="3.0" fill="#fff" stroke="#111" stroke-width="0.9"/>
<rect x="196.1" y="196.1" width="3.0" height="3.0" fill="#fff" stroke="#111" stroke-width="0.9"/>
<rect x="196.4" y="196.4" width="3.0" height="3.0" fill="#fff" stroke="#111" stroke-width="0.9"/>
<rect x="196.5" y="172.1" width="3.0" height="3.0" fill="#fff" stroke="#111" stroke-width="0.9"/>
<rect x="197.5" y="143.3" width="3.0" height="3.0" fill="#fff" stroke="#111" stroke-width="0.9"/>
<rect x="197.5" y="170.2" width="3.0" height="3.0" fill="#fff" stroke="#111" stroke-width="0.9"/>
<rect x="198.1" y="133.4" width="3.0" height="3.0" fill="#fff" stroke="#111" stroke-width="0.9"/>
<rect x="198.5" y="152.4" width="3.0" height="3.0" fill="#fff" stroke="#111" stroke-width="0.9"/>
<rect x="199.4" y="164.2" width="3.0" height="3.0" fill="#fff" stroke="#111" stroke-width="0.9"/>
<rect x="200.4" y="167.2" width="3.0" height="3.0" fill="#fff" stroke="#111" stroke-width="0.9"/>
<rect x="201.4" y="150.4" width="3.0" height="3.0" fill="#fff" stroke="#111" stroke-width="0.9"/>
<rect x="201.4" y="158.3" width="3.0" height="3.0" fill="#fff" stroke="#111" stroke-width="0.9"/>
<rect x="202.4" y="122.6" width="3.0" height="3.0" fill="#fff" stroke="#111" stroke-width="0.9"/>
<rect x="203.4" y="124.2" width="3.0" height="3.0" fill="#fff" stroke="#111" stroke-width="0.9"/>
<rect x="204.4" y="152.4" width="3.0" height="3.0" fill="#fff" stroke="#111" stroke-width="0.9"/>
<rect x="206.3" y="145.8" width="3.0" height="3.0" fill="#fff" stroke="#111" stroke-width="0.9"/>
<rect x="207.3" y="141.9" width="3.0" height="3.0" fill="#fff" stroke="#111" stroke-width="0.9"/>
<rect x="208.3" y="136.0" width="3.0" height="3.0" fill="#fff" stroke="#111" stroke-width="0.9"/>
<rect x="209.3" y="150.7" width="3.0" height="3.0" fill="#fff" stroke="#111" stroke-width="0.9"/>
<rect x="210.3" y="138.9" width="3.0" height="3.0" fill="#fff" stroke="#111" stroke-width="0.9"/>
<rect x="211.3" y="143.9" width="3.0" height="3.0" fill="#fff" stroke="#111" stroke-width="0.9"/>
<rect x="211.3" y="152.4" width="3.0" height="3.0" fill="#fff" stroke="#111" stroke-width="0.9"/>
<rect x="212.2" y="174.1" width="3.0" height="3.0" fill="#fff" stroke="#111" stroke-width="0.9"/>
<rect x="213.2" y="149.8" width="3.0" height="3.0" fill="#fff" stroke="#111" stroke-width="0.9"/>
<rect x="214.2" y="145.2" width="3.0" height="3.0" fill="#fff" stroke="#111" stroke-width="0.9"/>
<rect x="214.2" y="154.4" width="3.0" height="3.0" fill="#fff" stroke="#111" stroke-width="0.9"/>
<rect x="215.2" y="185.9" width="3.0" height="3.0" fill="#fff" stroke="#111" stroke-width="0.9"/>
<rect x="215.4" y="186.5" width="3.0" height="3.0" fill="#fff" stroke="#111" stroke-width="0.9"/>
<rect x="215.8" y="137.0" width="3.0" height="3.0" fill="#fff" stroke="#111" stroke-width="0.9"/>
<rect x="216.2" y="118.3" width="3.0" height="3.0" fill="#fff" stroke="#111" stroke-width="0.9"/>
<rect x="216.6" y="105.4" width="3.0" height="3.0" fill="#fff" stroke="#111" stroke-width="0.9"/>
<rect x="217.2" y="105.5" width="3.0" height="3.0" fill="#fff" stroke="#111" stroke-width="0.9"/>
<rect x="217.8" y="100.2" width="3.0" height="3.0" fill="#fff" stroke="#111" stroke-width="0.9"/>
<rect x="218.5" y="90.0" width="3.0" height="3.0" fill="#fff" stroke="#111" stroke-width="0.9"/>
<rect x="219.1" y="92.4" width="3.0" height="3.0" fill="#fff" stroke="#111" stroke-width="0.9"/>
<rect x="219.7" y="95.5" width="3.0" height="3.0" fill="#fff" stroke="#111" stroke-width="0.9"/>
<rect x="221.1" y="101.8" width="3.0" height="3.0" fill="#fff" stroke="#111" stroke-width="0.9"/>
<rect x="222.1" y="111.4" width="3.0" height="3.0" fill="#fff" stroke="#111" stroke-width="0.9"/>
<rect x="222.7" y="114.3" width="3.0" height="3.0" fill="#fff" stroke="#111" stroke-width="0.9"/>
<rect x="223.5" y="145.8" width="3.0" height="3.0" fill="#fff" stroke="#111" stroke-width="0.9"/>
<rect x="223.7" y="177.0" width="3.0" height="3.0" fill="#fff" stroke="#111" stroke-width="0.9"/>
<rect x="224.0" y="192.5" width="3.0" height="3.0" fill="#fff" stroke="#111" stroke-width="0.9"/>
<rect x="224.1" y="195.7" width="3.0" height="3.0" fill="#fff" stroke="#111" stroke-width="0.9"/>
<rect x="224.6" y="196.6" width="3.0" height="3.0" fill="#fff" stroke="#111" stroke-width="0.9"/>
<rect x="224.9" y="177.3" width="3.0" height="3.0" fill="#fff" stroke="#111" stroke-width="0.9"/>
<rect x="225.3" y="204.5" width="3.0" height="3.0" fill="#fff" stroke="#111" stroke-width="0.9"/>
<rect x="225.9" y="200.2" width="3.0" height="3.0" fill="#fff" stroke="#111" stroke-width="0.9"/>
<rect x="226.0" y="193.8" width="3.0" height="3.0" fill="#fff" stroke="#111" stroke-width="0.9"/>
<rect x="226.9" y="200.1" width="3.0" height="3.0" fill="#fff" stroke="#111" stroke-width="0.9"/>
<rect x="227.7" y="193.8" width="3.0" height="3.0" fill="#fff" stroke="#111" stroke-width="0.9"/>
<rect x="228.0" y="195.7" width="3.0" height="3.0" fill="#fff" stroke="#111" stroke-width="0.9"/>
<rect x="228.7" y="191.6" width="3.0" height="3.0" fill="#fff" stroke="#111" stroke-width="0.9"/>
<rect x="229.3" y="197.7" width="3.0" height="3.0" fill="#fff" stroke="#111" stroke-width="0.9"/>
<rect x="230.0" y="191.8" width="3.0" height="3.0" fill="#fff" stroke="#111" stroke-width="0.9"/>
<rect x="230.6" y="196.4" width="3.0" height="3.0" fill="#fff" stroke="#111" stroke-width="0.9"/>
<rect x="230.9" y="174.1" width="3.0" height="3.0" fill="#fff" stroke="#111" stroke-width="0.9"/>
<rect x="230.9" y="201.7" width="3.0" height="3.0" fill="#fff" stroke="#111" stroke-width="0.9"/>
<rect x="231.5" y="151.7" width="3.0" height="3.0" fill="#fff" stroke="#111" stroke-width="0.9"/>
<rect x="231.5" y="152.4" width="3.0" height="3.0" fill="#fff" stroke="#111" stroke-width="0.9"/>
<rect x="231.5" y="174.0" width="3.0" height="3.0" fill="#fff" stroke="#111" stroke-width="0.9"/>
<rect x="231.5" y="202.1" width="3.0" height="3.0" fill="#fff" stroke="#111" stroke-width="0.9"/>
<rect x="231.9" y="162.3" width="3.0" height="3.0" fill="#fff" stroke="#111" stroke-width="0.9"/>
<rect x="232.5" y="152.4" width="3.0" height="3.0" fill="#fff" stroke="#111" stroke-width="0.9"/>
<rect x="233.5" y="158.9" width="3.0" height="3.0" fill="#fff" stroke="#111" stroke-width="0.9"/>
<rect x="233.5" y="170.1" width="3.0" height="3.0" fill="#fff" stroke="#111" stroke-width="0.9"/>
<rect x="234.4" y="164.8" width="3.0" height="3.0" fill="#fff" stroke="#111" stroke-width="0.9"/>
<rect x="235.4" y="168.1" width="3.0" height="3.0" fill="#fff" stroke="#111" stroke-width="0.9"/>
<rect x="237.4" y="154.3" width="3.0" height="3.0" fill="#fff" stroke="#111" stroke-width="0.9"/>
<rect x="237.4" y="161.2" width="3.0" height="3.0" fill="#fff" stroke="#111" stroke-width="0.9"/>
<rect x="238.1" y="191.6" width="3.0" height="3.0" fill="#fff" stroke="#111" stroke-width="0.9"/>
<rect x="238.4" y="190.7" width="3.0" height="3.0" fill="#fff" stroke="#111" stroke-width="0.9"/>
<rect x="239.1" y="200.2" width="3.0" height="3.0" fill="#fff" stroke="#111" stroke-width="0.9"/>
<rect x="239.4" y="187.2" width="3.0" height="3.0" fill="#fff" stroke="#111" stroke-width="0.9"/>
<rect x="239.6" y="192.2" width="3.0" height="3.0" fill="#fff" stroke="#111" stroke-width="0.9"/>
<rect x="240.4" y="202.8" width="3.0" height="3.0" fill="#fff" stroke="#111" stroke-width="0.9"/>
<rect x="241.0" y="203.0" width="3.0" height="3.0" fill="#fff" stroke="#111" stroke-width="0.9"/>
<rect x="241.1" y="202.5" width="3.0" height="3.0" fill="#fff" stroke="#111" stroke-width="0.9"/>
<rect x="241.9" y="192.5" width="3.0" height="3.0" fill="#fff" stroke="#111" stroke-width="0.9"/>
<rect x="244.4" y="192.1" width="3.0" height="3.0" fill="#fff" stroke="#111" stroke-width="0.9"/>
<rect x="244.8" y="194.5" width="3.0" height="3.0" fill="#fff" stroke="#111" stroke-width="0.9"/>
<rect x="245.7" y="188.7" width="3.0" height="3.0" fill="#fff" stroke="#111" stroke-width="0.9"/>
<rect x="247.8" y="184.8" width="3.0" height="3.0" fill="#fff" stroke="#111" stroke-width="0.9"/>
<rect x="248.6" y="184.0" width="3.0" height="3.0" fill="#fff" stroke="#111" stroke-width="0.9"/>
<rect x="249.2" y="179.9" width="3.0" height="3.0" fill="#fff" stroke="#111" stroke-width="0.9"/>
<rect x="250.2" y="174.6" width="3.0" height="3.0" fill="#fff" stroke="#111" stroke-width="0.9"/>
<rect x="250.2" y="189.2" width="3.0" height="3.0" fill="#fff" stroke="#111" stroke-width="0.9"/>
<rect x="250.5" y="181.1" width="3.0" height="3.0" fill="#fff" stroke="#111" stroke-width="0.9"/>
<rect x="251.2" y="185.8" width="3.0" height="3.0" fill="#fff" stroke="#111" stroke-width="0.9"/>
<rect x="251.5" y="187.8" width="3.0" height="3.0" fill="#fff" stroke="#111" stroke-width="0.9"/>
<rect x="251.5" y="193.4" width="3.0" height="3.0" fill="#fff" stroke="#111" stroke-width="0.9"/>
<rect x="252.2" y="180.9" width="3.0" height="3.0" fill="#fff" stroke="#111" stroke-width="0.9"/>
<rect x="254.1" y="189.8" width="3.0" height="3.0" fill="#fff" stroke="#111" stroke-width="0.9"/>
<rect x="255.1" y="181.9" width="3.0" height="3.0" fill="#fff" stroke="#111" stroke-width="0.9"/>
<rect x="255.3" y="185.9" width="3.0" height="3.0" fill="#fff" stroke="#111" stroke-width="0.9"/>
<rect x="256.1" y="184.8" width="3.0" height="3.0" fill="#fff" stroke="#111" stroke-width="0.9"/>
<rect x="256.2" y="192.5" width="3.0" height="3.0" fill="#fff" stroke="#111" stroke-width="0.9"/>
<rect x="257.0" y="194.0" width="3.0" height="3.0" fill="#fff" stroke="#111" stroke-width="0.9"/>
<rect x="257.2" y="201.1" width="3.0" height="3.0" fill="#fff" stroke="#111" stroke-width="0.9"/>
<rect x="258.1" y="188.8" width="3.0" height="3.0" fill="#fff" stroke="#111" stroke-width="0.9"/>
<rect x="260.0" y="187.8" width="3.0" height="3.0" fill="#fff" stroke="#111" stroke-width="0.9"/>
<rect x="260.0" y="188.8" width="3.0" height="3.0" fill="#fff" stroke="#111" stroke-width="0.9"/>
<rect x="260.1" y="188.2" width="3.0" height="3.0" fill="#fff" stroke="#111" stroke-width="0.9"/>
<rect x="261.0" y="177.9" width="3.0" height="3.0" fill="#fff" stroke="#111" stroke-width="0.9"/>
<rect x="262.0" y="171.1" width="3.0" height="3.0" fill="#fff" stroke="#111" stroke-width="0.9"/>
<rect x="262.9" y="181.1" width="3.0" height="3.0" fill="#fff" stroke="#111" stroke-width="0.9"/>
<rect x="263.0" y="181.9" width="3.0" height="3.0" fill="#fff" stroke="#111" stroke-width="0.9"/>
<rect x="264.0" y="186.8" width="3.0" height="3.0" fill="#fff" stroke="#111" stroke-width="0.9"/>
<rect x="264.8" y="185.9" width="3.0" height="3.0" fill="#fff" stroke="#111" stroke-width="0.9"/>
<rect x="264.9" y="175.0" width="3.0" height="3.0" fill="#fff" stroke="#111" stroke-width="0.9"/>
<rect x="265.7" y="198.3" width="3.0" height="3.0" fill="#fff" stroke="#111" stroke-width="0.9"/>
<rect x="266.9" y="189.8" width="3.0" height="3.0" fill="#fff" stroke="#111" stroke-width="0.9"/>
<rect x="267.6" y="192.5" width="3.0" height="3.0" fill="#fff" stroke="#111" stroke-width="0.9"/>
<rect x="268.6" y="203.0" width="3.0" height="3.0" fill="#fff" stroke="#111" stroke-width="0.9"/>
<rect x="269.5" y="197.3" width="3.0" height="3.0" fill="#fff" stroke="#111" stroke-width="0.9"/>
<rect x="269.6" y="190.5" width="3.0" height="3.0" fill="#fff" stroke="#111" stroke-width="0.9"/>
<rect x="269.9" y="184.8" width="3.0" height="3.0" fill="#fff" stroke="#111" stroke-width="0.9"/>
<rect x="270.5" y="194.5" width="3.0" height="3.0" fill="#fff" stroke="#111" stroke-width="0.9"/>
<rect x="271.5" y="188.7" width="3.0" height="3.0" fill="#fff" stroke="#111" stroke-width="0.9"/>
<rect x="271.8" y="188.8" width="3.0" height="3.0" fill="#fff" stroke="#111" stroke-width="0.9"/>
<rect x="271.9" y="187.4" width="3.0" height="3.0" fill="#fff" stroke="#111" stroke-width="0.9"/>
<rect x="272.8" y="184.8" width="3.0" height="3.0" fill="#fff" stroke="#111" stroke-width="0.9"/>
<rect x="273.4" y="192.5" width="3.0" height="3.0" fill="#fff" stroke="#111" stroke-width="0.9"/>
<rect x="275.8" y="168.1" width="3.0" height="3.0" fill="#fff" stroke="#111" stroke-width="0.9"/>
<rect x="275.8" y="185.8" width="3.0" height="3.0" fill="#fff" stroke="#111" stroke-width="0.9"/>
<rect x="276.2" y="181.1" width="3.0" height="3.0" fill="#fff" stroke="#111" stroke-width="0.9"/>
<rect x="276.8" y="178.9" width="3.0" height="3.0" fill="#fff" stroke="#111" stroke-width="0.9"/>
<rect x="277.2" y="177.3" width="3.0" height="3.0" fill="#fff" stroke="#111" stroke-width="0.9"/>
<rect x="277.7" y="162.2" width="3.0" height="3.0" fill="#fff" stroke="#111" stroke-width="0.9"/>
<rect x="279.3" y="154.3" width="3.0" height="3.0" fill="#fff" stroke="#111" stroke-width="0.9"/>
<rect x="279.3" y="184.8" width="3.0" height="3.0" fill="#fff" stroke="#111" stroke-width="0.9"/>
<rect x="280.1" y="171.1" width="3.0" height="3.0" fill="#fff" stroke="#111" stroke-width="0.9"/>
<rect x="280.7" y="167.1" width="3.0" height="3.0" fill="#fff" stroke="#111" stroke-width="0.9"/>
<rect x="281.5" y="196.4" width="3.0" height="3.0" fill="#fff" stroke="#111" stroke-width="0.9"/>
<rect x="282.7" y="177.4" width="3.0" height="3.0" fill="#fff" stroke="#111" stroke-width="0.9"/>
<rect x="282.7" y="185.8" width="3.0" height="3.0" fill="#fff" stroke="#111" stroke-width="0.9"/>
<rect x="283.3" y="152.4" width="3.0" height="3.0" fill="#fff" stroke="#111" stroke-width="0.9"/>
<rect x="284.0" y="157.3" width="3.0" height="3.0" fill="#fff" stroke="#111" stroke-width="0.9"/>
<rect x="285.2" y="118.2" width="3.0" height="3.0" fill="#fff" stroke="#111" stroke-width="0.9"/>
<rect x="286.0" y="130.0" width="3.0" height="3.0" fill="#fff" stroke="#111" stroke-width="0.9"/>
<rect x="286.6" y="112.3" width="3.0" height="3.0" fill="#fff" stroke="#111" stroke-width="0.9"/>
<rect x="287.2" y="95.8" width="3.0" height="3.0" fill="#fff" stroke="#111" stroke-width="0.9"/>
<rect x="288.6" y="83.0" width="3.0" height="3.0" fill="#fff" stroke="#111" stroke-width="0.9"/>
<rect x="289.2" y="90.9" width="3.0" height="3.0" fill="#fff" stroke="#111" stroke-width="0.9"/>
<rect x="289.6" y="78.7" width="3.0" height="3.0" fill="#fff" stroke="#111" stroke-width="0.9"/>
<rect x="289.9" y="69.2" width="3.0" height="3.0" fill="#fff" stroke="#111" stroke-width="0.9"/>
<rect x="291.5" y="63.3" width="3.0" height="3.0" fill="#fff" stroke="#111" stroke-width="0.9"/>
<rect x="291.9" y="80.7" width="3.0" height="3.0" fill="#fff" stroke="#111" stroke-width="0.9"/>
<rect x="293.1" y="64.9" width="3.0" height="3.0" fill="#fff" stroke="#111" stroke-width="0.9"/>
<rect x="293.1" y="93.9" width="3.0" height="3.0" fill="#fff" stroke="#111" stroke-width="0.9"/>
<rect x="293.9" y="74.8" width="3.0" height="3.0" fill="#fff" stroke="#111" stroke-width="0.9"/>
<rect x="294.5" y="85.0" width="3.0" height="3.0" fill="#fff" stroke="#111" stroke-width="0.9"/>
<rect x="295.1" y="89.9" width="3.0" height="3.0" fill="#fff" stroke="#111" stroke-width="0.9"/>
<rect x="295.5" y="100.4" width="3.0" height="3.0" fill="#fff" stroke="#111" stroke-width="0.9"/>
<rect x="296.4" y="131.0" width="3.0" height="3.0" fill="#fff" stroke="#111" stroke-width="0.9"/>
<rect x="297.4" y="138.9" width="3.0" height="3.0" fill="#fff" stroke="#111" stroke-width="0.9"/>
<rect x="298.4" y="140.8" width="3.0" height="3.0" fill="#fff" stroke="#111" stroke-width="0.9"/>
<rect x="298.4" y="151.4" width="3.0" height="3.0" fill="#fff" stroke="#111" stroke-width="0.9"/>
<rect x="299.0" y="168.1" width="3.0" height="3.0" fill="#fff" stroke="#111" stroke-width="0.9"/>
<rect x="299.8" y="130.4" width="3.0" height="3.0" fill="#fff" stroke="#111" stroke-width="0.9"/>
<rect x="299.8" y="145.5" width="3.0" height="3.0" fill="#fff" stroke="#111" stroke-width="0.9"/>
<rect x="300.4" y="143.4" width="3.0" height="3.0" fill="#fff" stroke="#111" stroke-width="0.9"/>
<rect x="301.4" y="153.3" width="3.0" height="3.0" fill="#fff" stroke="#111" stroke-width="0.9"/>
<rect x="301.8" y="180.3" width="3.0" height="3.0" fill="#fff" stroke="#111" stroke-width="0.9"/>
<rect x="302.4" y="145.7" width="3.0" height="3.0" fill="#fff" stroke="#111" stroke-width="0.9"/>
<rect x="303.3" y="147.4" width="3.0" height="3.0" fill="#fff" stroke="#111" stroke-width="0.9"/>
<rect x="303.7" y="140.8" width="3.0" height="3.0" fill="#fff" stroke="#111" stroke-width="0.9"/>
<rect x="305.7" y="172.6" width="3.0" height="3.0" fill="#fff" stroke="#111" stroke-width="0.9"/>
<rect x="306.3" y="124.1" width="3.0" height="3.0" fill="#fff" stroke="#111" stroke-width="0.9"/>
<rect x="307.7" y="47.6" width="3.0" height="3.0" fill="#fff" stroke="#111" stroke-width="0.9"/>
<rect x="308.3" y="102.7" width="3.0" height="3.0" fill="#fff" stroke="#111" stroke-width="0.9"/>
<rect x="309.2" y="111.3" width="3.0" height="3.0" fill="#fff" stroke="#111" stroke-width="0.9"/>
<rect x="309.2" y="134.9" width="3.0" height="3.0" fill="#fff" stroke="#111" stroke-width="0.9"/>
<rect x="310.2" y="171.1" width="3.0" height="3.0" fill="#fff" stroke="#111" stroke-width="0.9"/>
<rect x="310.8" y="184.5" width="3.0" height="3.0" fill="#fff" stroke="#111" stroke-width="0.9"/>
<rect x="311.5" y="176.9" width="3.0" height="3.0" fill="#fff" stroke="#111" stroke-width="0.9"/>
<rect x="311.5" y="187.8" width="3.0" height="3.0" fill="#fff" stroke="#111" stroke-width="0.9"/>
<rect x="311.6" y="177.4" width="3.0" height="3.0" fill="#fff" stroke="#111" stroke-width="0.9"/>
<rect x="312.0" y="184.0" width="3.0" height="3.0" fill="#fff" stroke="#111" stroke-width="0.9"/>
<rect x="312.2" y="187.2" width="3.0" height="3.0" fill="#fff" stroke="#111" stroke-width="0.9"/>
<rect x="312.8" y="197.3" width="3.0" height="3.0" fill="#fff" stroke="#111" stroke-width="0.9"/>
<rect x="313.4" y="194.5" width="3.0" height="3.0" fill="#fff" stroke="#111" stroke-width="0.9"/>
<rect x="314.2" y="158.3" width="3.0" height="3.0" fill="#fff" stroke="#111" stroke-width="0.9"/>
<rect x="314.2" y="166.7" width="3.0" height="3.0" fill="#fff" stroke="#111" stroke-width="0.9"/>
<rect x="314.8" y="145.7" width="3.0" height="3.0" fill="#fff" stroke="#111" stroke-width="0.9"/>
<rect x="315.1" y="146.5" width="3.0" height="3.0" fill="#fff" stroke="#111" stroke-width="0.9"/>
<rect x="315.5" y="111.3" width="3.0" height="3.0" fill="#fff" stroke="#111" stroke-width="0.9"/>
<rect x="315.5" y="128.0" width="3.0" height="3.0" fill="#fff" stroke="#111" stroke-width="0.9"/>
<rect x="317.1" y="89.3" width="3.0" height="3.0" fill="#fff" stroke="#111" stroke-width="0.9"/>
<rect x="317.1" y="122.1" width="3.0" height="3.0" fill="#fff" stroke="#111" stroke-width="0.9"/>
<rect x="317.5" y="68.3" width="3.0" height="3.0" fill="#fff" stroke="#111" stroke-width="0.9"/>
<rect x="318.1" y="72.8" width="3.0" height="3.0" fill="#fff" stroke="#111" stroke-width="0.9"/>
<rect x="319.5" y="48.4" width="3.0" height="3.0" fill="#fff" stroke="#111" stroke-width="0.9"/>
<rect x="320.3" y="33.3" width="3.0" height="3.0" fill="#fff" stroke="#111" stroke-width="0.9"/>
<rect x="321.4" y="49.0" width="3.0" height="3.0" fill="#fff" stroke="#111" stroke-width="0.9"/>
<rect x="321.8" y="39.2" width="3.0" height="3.0" fill="#fff" stroke="#111" stroke-width="0.9"/>
<rect x="322.0" y="78.1" width="3.0" height="3.0" fill="#fff" stroke="#111" stroke-width="0.9"/>
<rect x="323.0" y="100.7" width="3.0" height="3.0" fill="#fff" stroke="#111" stroke-width="0.9"/>
<rect x="323.0" y="100.9" width="3.0" height="3.0" fill="#fff" stroke="#111" stroke-width="0.9"/>
<rect x="324.6" y="57.0" width="3.0" height="3.0" fill="#fff" stroke="#111" stroke-width="0.9"/>
<rect x="325.4" y="72.2" width="3.0" height="3.0" fill="#fff" stroke="#111" stroke-width="0.9"/>
<rect x="326.0" y="120.2" width="3.0" height="3.0" fill="#fff" stroke="#111" stroke-width="0.9"/>
<rect x="326.6" y="123.1" width="3.0" height="3.0" fill="#fff" stroke="#111" stroke-width="0.9"/>
<rect x="327.0" y="104.0" width="3.0" height="3.0" fill="#fff" stroke="#111" stroke-width="0.9"/>
<rect x="327.4" y="85.0" width="3.0" height="3.0" fill="#fff" stroke="#111" stroke-width="0.9"/>
<rect x="327.9" y="77.1" width="3.0" height="3.0" fill="#fff" stroke="#111" stroke-width="0.9"/>
<rect x="327.9" y="90.9" width="3.0" height="3.0" fill="#fff" stroke="#111" stroke-width="0.9"/>
<rect x="328.9" y="62.4" width="3.0" height="3.0" fill="#fff" stroke="#111" stroke-width="0.9"/>
<rect x="328.9" y="81.1" width="3.0" height="3.0" fill="#fff" stroke="#111" stroke-width="0.9"/>
<rect x="328.9" y="95.8" width="3.0" height="3.0" fill="#fff" stroke="#111" stroke-width="0.9"/>
<rect x="329.5" y="74.2" width="3.0" height="3.0" fill="#fff" stroke="#111" stroke-width="0.9"/>
<rect x="330.1" y="81.1" width="3.0" height="3.0" fill="#fff" stroke="#111" stroke-width="0.9"/>
<rect x="330.1" y="93.9" width="3.0" height="3.0" fill="#fff" stroke="#111" stroke-width="0.9"/>
<rect x="330.9" y="88.0" width="3.0" height="3.0" fill="#fff" stroke="#111" stroke-width="0.9"/>
<rect x="331.5" y="62.8" width="3.0" height="3.0" fill="#fff" stroke="#111" stroke-width="0.9"/>
<rect x="331.5" y="90.0" width="3.0" height="3.0" fill="#fff" stroke="#111" stroke-width="0.9"/>
<rect x="331.7" y="63.4" width="3.0" height="3.0" fill="#fff" stroke="#111" stroke-width="0.9"/>
<rect x="333.3" y="49.0" width="3.0" height="3.0" fill="#fff" stroke="#111" stroke-width="0.9"/>
<rect x="334.0" y="56.9" width="3.0" height="3.0" fill="#fff" stroke="#111" stroke-width="0.9"/>
<rect x="334.4" y="55.8" width="3.0" height="3.0" fill="#fff" stroke="#111" stroke-width="0.9"/>
<rect x="334.6" y="51.0" width="3.0" height="3.0" fill="#fff" stroke="#111" stroke-width="0.9"/>
<rect x="335.2" y="40.2" width="3.0" height="3.0" fill="#fff" stroke="#111" stroke-width="0.9"/>
<rect x="335.4" y="71.3" width="3.0" height="3.0" fill="#fff" stroke="#111" stroke-width="0.9"/>
<rect x="336.6" y="47.6" width="3.0" height="3.0" fill="#fff" stroke="#111" stroke-width="0.9"/>
<rect x="337.4" y="82.5" width="3.0" height="3.0" fill="#fff" stroke="#111" stroke-width="0.9"/>
<rect x="337.9" y="125.2" width="3.0" height="3.0" fill="#fff" stroke="#111" stroke-width="0.9"/>
<rect x="338.3" y="130.1" width="3.0" height="3.0" fill="#fff" stroke="#111" stroke-width="0.9"/>
<rect x="338.7" y="142.5" width="3.0" height="3.0" fill="#fff" stroke="#111" stroke-width="0.9"/>
<rect x="339.3" y="156.4" width="3.0" height="3.0" fill="#fff" stroke="#111" stroke-width="0.9"/>
<rect x="339.9" y="166.2" width="3.0" height="3.0" fill="#fff" stroke="#111" stroke-width="0.9"/>
<rect x="340.7" y="162.3" width="3.0" height="3.0" fill="#fff" stroke="#111" stroke-width="0.9"/>
<rect x="341.3" y="152.4" width="3.0" height="3.0" fill="#fff" stroke="#111" stroke-width="0.9"/>
<rect x="341.9" y="150.7" width="3.0" height="3.0" fill="#fff" stroke="#111" stroke-width="0.9"/>
<rect x="342.7" y="156.8" width="3.0" height="3.0" fill="#fff" stroke="#111" stroke-width="0.9"/>
<rect x="343.3" y="169.2" width="3.0" height="3.0" fill="#fff" stroke="#111" stroke-width="0.9"/>
<rect x="344.2" y="187.9" width="3.0" height="3.0" fill="#fff" stroke="#111" stroke-width="0.9"/>
<rect x="344.6" y="178.0" width="3.0" height="3.0" fill="#fff" stroke="#111" stroke-width="0.9"/>
<rect x="344.7" y="192.5" width="3.0" height="3.0" fill="#fff" stroke="#111" stroke-width="0.9"/>
<rect x="345.2" y="190.8" width="3.0" height="3.0" fill="#fff" stroke="#111" stroke-width="0.9"/>
<rect x="345.2" y="197.3" width="3.0" height="3.0" fill="#fff" stroke="#111" stroke-width="0.9"/>
<rect x="345.3" y="187.8" width="3.0" height="3.0" fill="#fff" stroke="#111" stroke-width="0.9"/>
<rect x="345.3" y="198.3" width="3.0" height="3.0" fill="#fff" stroke="#111" stroke-width="0.9"/>
<rect x="346.6" y="188.9" width="3.0" height="3.0" fill="#fff" stroke="#111" stroke-width="0.9"/>
<rect x="347.2" y="133.4" width="3.0" height="3.0" fill="#fff" stroke="#111" stroke-width="0.9"/>
<rect x="347.2" y="145.8" width="3.0" height="3.0" fill="#fff" stroke="#111" stroke-width="0.9"/>
<rect x="348.2" y="128.1" width="3.0" height="3.0" fill="#fff" stroke="#111" stroke-width="0.9"/>
<rect x="348.6" y="118.3" width="3.0" height="3.0" fill="#fff" stroke="#111" stroke-width="0.9"/>
<rect x="349.8" y="106.7" width="3.0" height="3.0" fill="#fff" stroke="#111" stroke-width="0.9"/>
<rect x="349.8" y="107.0" width="3.0" height="3.0" fill="#fff" stroke="#111" stroke-width="0.9"/>
<rect x="350.2" y="98.9" width="3.0" height="3.0" fill="#fff" stroke="#111" stroke-width="0.9"/>
<rect x="351.1" y="81.1" width="3.0" height="3.0" fill="#fff" stroke="#111" stroke-width="0.9"/>
<rect x="351.7" y="84.5" width="3.0" height="3.0" fill="#fff" stroke="#111" stroke-width="0.9"/>
<rect x="352.5" y="88.4" width="3.0" height="3.0" fill="#fff" stroke="#111" stroke-width="0.9"/>
<rect x="353.1" y="106.7" width="3.0" height="3.0" fill="#fff" stroke="#111" stroke-width="0.9"/>
<rect x="353.1" y="107.8" width="3.0" height="3.0" fill="#fff" stroke="#111" stroke-width="0.9"/>
<rect x="353.7" y="132.6" width="3.0" height="3.0" fill="#fff" stroke="#111" stroke-width="0.9"/>
<rect x="354.1" y="189.8" width="3.0" height="3.0" fill="#fff" stroke="#111" stroke-width="0.9"/>
<rect x="354.2" y="187.2" width="3.0" height="3.0" fill="#fff" stroke="#111" stroke-width="0.9"/>
<rect x="355.1" y="186.9" width="3.0" height="3.0" fill="#fff" stroke="#111" stroke-width="0.9"/>
<rect x="355.2" y="190.6" width="3.0" height="3.0" fill="#fff" stroke="#111" stroke-width="0.9"/>
<rect x="356.1" y="169.2" width="3.0" height="3.0" fill="#fff" stroke="#111" stroke-width="0.9"/>
<rect x="356.1" y="175.1" width="3.0" height="3.0" fill="#fff" stroke="#111" stroke-width="0.9"/>
<rect x="357.0" y="165.2" width="3.0" height="3.0" fill="#fff" stroke="#111" stroke-width="0.9"/>
<rect x="357.0" y="190.2" width="3.0" height="3.0" fill="#fff" stroke="#111" stroke-width="0.9"/>
<rect x="357.1" y="190.6" width="3.0" height="3.0" fill="#fff" stroke="#111" stroke-width="0.9"/>
<rect x="357.6" y="187.9" width="3.0" height="3.0" fill="#fff" stroke="#111" stroke-width="0.9"/>
<rect x="358.0" y="157.4" width="3.0" height="3.0" fill="#fff" stroke="#111" stroke-width="0.9"/>
<rect x="358.0" y="171.1" width="3.0" height="3.0" fill="#fff" stroke="#111" stroke-width="0.9"/>
<rect x="358.0" y="180.0" width="3.0" height="3.0" fill="#fff" stroke="#111" stroke-width="0.9"/>
<rect x="359.0" y="175.1" width="3.0" height="3.0" fill="#fff" stroke="#111" stroke-width="0.9"/>
<rect x="359.4" y="186.8" width="3.0" height="3.0" fill="#fff" stroke="#111" stroke-width="0.9"/>
<rect x="359.6" y="185.9" width="3.0" height="3.0" fill="#fff" stroke="#111" stroke-width="0.9"/>
<rect x="360.0" y="138.9" width="3.0" height="3.0" fill="#fff" stroke="#111" stroke-width="0.9"/>
<rect x="361.6" y="132.0" width="3.0" height="3.0" fill="#fff" stroke="#111" stroke-width="0.9"/>
<rect x="362.4" y="111.4" width="3.0" height="3.0" fill="#fff" stroke="#111" stroke-width="0.9"/>
<rect x="362.9" y="140.9" width="3.0" height="3.0" fill="#fff" stroke="#111" stroke-width="0.9"/>
<rect x="363.5" y="117.3" width="3.0" height="3.0" fill="#fff" stroke="#111" stroke-width="0.9"/>
<rect x="364.3" y="120.2" width="3.0" height="3.0" fill="#fff" stroke="#111" stroke-width="0.9"/>
<rect x="364.9" y="143.9" width="3.0" height="3.0" fill="#fff" stroke="#111" stroke-width="0.9"/>
<rect x="366.3" y="157.4" width="3.0" height="3.0" fill="#fff" stroke="#111" stroke-width="0.9"/>
<rect x="366.9" y="78.6" width="3.0" height="3.0" fill="#fff" stroke="#111" stroke-width="0.9"/>
<rect x="367.5" y="60.2" width="3.0" height="3.0" fill="#fff" stroke="#111" stroke-width="0.9"/>
<rect x="367.5" y="60.5" width="3.0" height="3.0" fill="#fff" stroke="#111" stroke-width="0.9"/>
<rect x="368.5" y="175.4" width="3.0" height="3.0" fill="#fff" stroke="#111" stroke-width="0.9"/>
<rect x="368.9" y="94.3" width="3.0" height="3.0" fill="#fff" stroke="#111" stroke-width="0.9"/>
<rect x="368.9" y="175.1" width="3.0" height="3.0" fill="#fff" stroke="#111" stroke-width="0.9"/>
<rect x="370.2" y="90.4" width="3.0" height="3.0" fill="#fff" stroke="#111" stroke-width="0.9"/>
<rect x="370.8" y="87.6" width="3.0" height="3.0" fill="#fff" stroke="#111" stroke-width="0.9"/>
<rect x="370.8" y="111.8" width="3.0" height="3.0" fill="#fff" stroke="#111" stroke-width="0.9"/>
<rect x="371.8" y="172.1" width="3.0" height="3.0" fill="#fff" stroke="#111" stroke-width="0.9"/>
<rect x="372.8" y="140.9" width="3.0" height="3.0" fill="#fff" stroke="#111" stroke-width="0.9"/>
<rect x="373.4" y="143.9" width="3.0" height="3.0" fill="#fff" stroke="#111" stroke-width="0.9"/>
<rect x="373.8" y="188.9" width="3.0" height="3.0" fill="#fff" stroke="#111" stroke-width="0.9"/>
<rect x="373.8" y="189.1" width="3.0" height="3.0" fill="#fff" stroke="#111" stroke-width="0.9"/>
<rect x="374.2" y="204.0" width="3.0" height="3.0" fill="#fff" stroke="#111" stroke-width="0.9"/>
<rect x="375.7" y="145.2" width="3.0" height="3.0" fill="#fff" stroke="#111" stroke-width="0.9"/>
<rect x="376.7" y="123.2" width="3.0" height="3.0" fill="#fff" stroke="#111" stroke-width="0.9"/>
<rect x="377.7" y="126.1" width="3.0" height="3.0" fill="#fff" stroke="#111" stroke-width="0.9"/>
<rect x="378.7" y="116.3" width="3.0" height="3.0" fill="#fff" stroke="#111" stroke-width="0.9"/>
<rect x="380.1" y="130.1" width="3.0" height="3.0" fill="#fff" stroke="#111" stroke-width="0.9"/>
<rect x="381.3" y="83.1" width="3.0" height="3.0" fill="#fff" stroke="#111" stroke-width="0.9"/>
<rect x="381.3" y="133.0" width="3.0" height="3.0" fill="#fff" stroke="#111" stroke-width="0.9"/>
<rect x="382.6" y="143.9" width="3.0" height="3.0" fill="#fff" stroke="#111" stroke-width="0.9"/>
<rect x="383.6" y="169.2" width="3.0" height="3.0" fill="#fff" stroke="#111" stroke-width="0.9"/>
<rect x="384.6" y="186.9" width="3.0" height="3.0" fill="#fff" stroke="#111" stroke-width="0.9"/>
<rect x="384.7" y="186.8" width="3.0" height="3.0" fill="#fff" stroke="#111" stroke-width="0.9"/>
<rect x="385.2" y="190.2" width="3.0" height="3.0" fill="#fff" stroke="#111" stroke-width="0.9"/>
<rect x="385.6" y="182.0" width="3.0" height="3.0" fill="#fff" stroke="#111" stroke-width="0.9"/>
<rect x="386.6" y="190.6" width="3.0" height="3.0" fill="#fff" stroke="#111" stroke-width="0.9"/>
<rect x="387.2" y="190.8" width="3.0" height="3.0" fill="#fff" stroke="#111" stroke-width="0.9"/>
<rect x="387.6" y="180.0" width="3.0" height="3.0" fill="#fff" stroke="#111" stroke-width="0.9"/>
<rect x="387.6" y="187.9" width="3.0" height="3.0" fill="#fff" stroke="#111" stroke-width="0.9"/>
<rect x="388.5" y="183.9" width="3.0" height="3.0" fill="#fff" stroke="#111" stroke-width="0.9"/>
<rect x="389.5" y="175.1" width="3.0" height="3.0" fill="#fff" stroke="#111" stroke-width="0.9"/>
<rect x="390.4" y="187.8" width="3.0" height="3.0" fill="#fff" stroke="#111" stroke-width="0.9"/>
<rect x="391.1" y="187.9" width="3.0" height="3.0" fill="#fff" stroke="#111" stroke-width="0.9"/>
<rect x="391.5" y="168.2" width="3.0" height="3.0" fill="#fff" stroke="#111" stroke-width="0.9"/>
<rect x="391.9" y="151.7" width="3.0" height="3.0" fill="#fff" stroke="#111" stroke-width="0.9"/>
<rect x="391.9" y="152.8" width="3.0" height="3.0" fill="#fff" stroke="#111" stroke-width="0.9"/>
<rect x="392.5" y="143.9" width="3.0" height="3.0" fill="#fff" stroke="#111" stroke-width="0.9"/>
<rect x="393.1" y="132.0" width="3.0" height="3.0" fill="#fff" stroke="#111" stroke-width="0.9"/>
<rect x="394.4" y="107.3" width="3.0" height="3.0" fill="#fff" stroke="#111" stroke-width="0.9"/>
<rect x="394.4" y="107.8" width="3.0" height="3.0" fill="#fff" stroke="#111" stroke-width="0.9"/>
<rect x="394.4" y="125.2" width="3.0" height="3.0" fill="#fff" stroke="#111" stroke-width="0.9"/>
<rect x="395.4" y="112.4" width="3.0" height="3.0" fill="#fff" stroke="#111" stroke-width="0.9"/>
<rect x="395.4" y="135.0" width="3.0" height="3.0" fill="#fff" stroke="#111" stroke-width="0.9"/>
<rect x="396.4" y="107.8" width="3.0" height="3.0" fill="#fff" stroke="#111" stroke-width="0.9"/>
<rect x="396.4" y="118.3" width="3.0" height="3.0" fill="#fff" stroke="#111" stroke-width="0.9"/>
<rect x="397.4" y="107.3" width="3.0" height="3.0" fill="#fff" stroke="#111" stroke-width="0.9"/>
<rect x="397.4" y="128.1" width="3.0" height="3.0" fill="#fff" stroke="#111" stroke-width="0.9"/>
<rect x="398.4" y="157.4" width="3.0" height="3.0" fill="#fff" stroke="#111" stroke-width="0.9"/>
<rect x="399.4" y="139.9" width="3.0" height="3.0" fill="#fff" stroke="#111" stroke-width="0.9"/>
<rect x="400.1" y="137.9" width="3.0" height="3.0" fill="#fff" stroke="#111" stroke-width="0.9"/>
<rect x="400.7" y="129.1" width="3.0" height="3.0" fill="#fff" stroke="#111" stroke-width="0.9"/>
<rect x="401.3" y="122.2" width="3.0" height="3.0" fill="#fff" stroke="#111" stroke-width="0.9"/>
<rect x="402.3" y="99.8" width="3.0" height="3.0" fill="#fff" stroke="#111" stroke-width="0.9"/>
<rect x="402.3" y="116.3" width="3.0" height="3.0" fill="#fff" stroke="#111" stroke-width="0.9"/>
<rect x="404.3" y="90.0" width="3.0" height="3.0" fill="#fff" stroke="#111" stroke-width="0.9"/>
<rect x="404.9" y="96.9" width="3.0" height="3.0" fill="#fff" stroke="#111" stroke-width="0.9"/>
<rect x="405.7" y="93.9" width="3.0" height="3.0" fill="#fff" stroke="#111" stroke-width="0.9"/>
<rect x="407.2" y="68.3" width="3.0" height="3.0" fill="#fff" stroke="#111" stroke-width="0.9"/>
<rect x="407.2" y="82.1" width="3.0" height="3.0" fill="#fff" stroke="#111" stroke-width="0.9"/>
<rect x="411.6" y="90.0" width="3.0" height="3.0" fill="#fff" stroke="#111" stroke-width="0.9"/>
<rect x="413.1" y="106.5" width="3.0" height="3.0" fill="#fff" stroke="#111" stroke-width="0.9"/>
<rect x="413.2" y="110.4" width="3.0" height="3.0" fill="#fff" stroke="#111" stroke-width="0.9"/>
<rect x="413.5" y="101.4" width="3.0" height="3.0" fill="#fff" stroke="#111" stroke-width="0.9"/>
<rect x="414.1" y="105.7" width="3.0" height="3.0" fill="#fff" stroke="#111" stroke-width="0.9"/>
<rect x="414.1" y="109.4" width="3.0" height="3.0" fill="#fff" stroke="#111" stroke-width="0.9"/>
<rect x="414.7" y="79.2" width="3.0" height="3.0" fill="#fff" stroke="#111" stroke-width="0.9"/>
<rect x="415.1" y="94.9" width="3.0" height="3.0" fill="#fff" stroke="#111" stroke-width="0.9"/>
<rect x="415.1" y="119.2" width="3.0" height="3.0" fill="#fff" stroke="#111" stroke-width="0.9"/>
<rect x="415.8" y="95.5" width="3.0" height="3.0" fill="#fff" stroke="#111" stroke-width="0.9"/>
<rect x="416.1" y="138.9" width="3.0" height="3.0" fill="#fff" stroke="#111" stroke-width="0.9"/>
<rect x="417.1" y="153.4" width="3.0" height="3.0" fill="#fff" stroke="#111" stroke-width="0.9"/>
<rect x="418.1" y="150.7" width="3.0" height="3.0" fill="#fff" stroke="#111" stroke-width="0.9"/>
<rect x="418.1" y="163.3" width="3.0" height="3.0" fill="#fff" stroke="#111" stroke-width="0.9"/>
<rect x="419.0" y="182.1" width="3.0" height="3.0" fill="#fff" stroke="#111" stroke-width="0.9"/>
<rect x="419.1" y="145.8" width="3.0" height="3.0" fill="#fff" stroke="#111" stroke-width="0.9"/>
<rect x="419.1" y="150.5" width="3.0" height="3.0" fill="#fff" stroke="#111" stroke-width="0.9"/>
<rect x="419.1" y="182.4" width="3.0" height="3.0" fill="#fff" stroke="#111" stroke-width="0.9"/>
<rect x="421.0" y="147.8" width="3.0" height="3.0" fill="#fff" stroke="#111" stroke-width="0.9"/>
<rect x="421.0" y="158.3" width="3.0" height="3.0" fill="#fff" stroke="#111" stroke-width="0.9"/>
<rect x="421.0" y="164.2" width="3.0" height="3.0" fill="#fff" stroke="#111" stroke-width="0.9"/>
<rect x="421.1" y="147.7" width="3.0" height="3.0" fill="#fff" stroke="#111" stroke-width="0.9"/>
<rect x="423.0" y="150.7" width="3.0" height="3.0" fill="#fff" stroke="#111" stroke-width="0.9"/>
<rect x="423.0" y="151.5" width="3.0" height="3.0" fill="#fff" stroke="#111" stroke-width="0.9"/>
<rect x="424.6" y="87.0" width="3.0" height="3.0" fill="#fff" stroke="#111" stroke-width="0.9"/>
<rect x="424.6" y="117.3" width="3.0" height="3.0" fill="#fff" stroke="#111" stroke-width="0.9"/>
<rect x="425.0" y="111.4" width="3.0" height="3.0" fill="#fff" stroke="#111" stroke-width="0.9"/>
<rect x="425.9" y="152.4" width="3.0" height="3.0" fill="#fff" stroke="#111" stroke-width="0.9"/>
<rect x="426.0" y="116.9" width="3.0" height="3.0" fill="#fff" stroke="#111" stroke-width="0.9"/>
<rect x="426.9" y="125.2" width="3.0" height="3.0" fill="#fff" stroke="#111" stroke-width="0.9"/>
<rect x="427.0" y="152.0" width="3.0" height="3.0" fill="#fff" stroke="#111" stroke-width="0.9"/>
<rect x="427.9" y="133.0" width="3.0" height="3.0" fill="#fff" stroke="#111" stroke-width="0.9"/>
<rect x="428.0" y="127.1" width="3.0" height="3.0" fill="#fff" stroke="#111" stroke-width="0.9"/>
<rect x="429.0" y="114.3" width="3.0" height="3.0" fill="#fff" stroke="#111" stroke-width="0.9"/>
<rect x="429.0" y="138.9" width="3.0" height="3.0" fill="#fff" stroke="#111" stroke-width="0.9"/>
<rect x="429.6" y="107.3" width="3.0" height="3.0" fill="#fff" stroke="#111" stroke-width="0.9"/>
<rect x="430.0" y="109.0" width="3.0" height="3.0" fill="#fff" stroke="#111" stroke-width="0.9"/>
<rect x="430.4" y="120.2" width="3.0" height="3.0" fill="#fff" stroke="#111" stroke-width="0.9"/>
<rect x="430.9" y="81.1" width="3.0" height="3.0" fill="#fff" stroke="#111" stroke-width="0.9"/>
<rect x="431.9" y="84.1" width="3.0" height="3.0" fill="#fff" stroke="#111" stroke-width="0.9"/>
<rect x="432.9" y="157.3" width="3.0" height="3.0" fill="#fff" stroke="#111" stroke-width="0.9"/>
<rect x="433.9" y="144.8" width="3.0" height="3.0" fill="#fff" stroke="#111" stroke-width="0.9"/>
<rect x="434.3" y="140.5" width="3.0" height="3.0" fill="#fff" stroke="#111" stroke-width="0.9"/>
<rect x="434.9" y="156.4" width="3.0" height="3.0" fill="#fff" stroke="#111" stroke-width="0.9"/>
<rect x="436.8" y="177.0" width="3.0" height="3.0" fill="#fff" stroke="#111" stroke-width="0.9"/>
<rect x="437.8" y="173.1" width="3.0" height="3.0" fill="#fff" stroke="#111" stroke-width="0.9"/>
<rect x="439.8" y="184.3" width="3.0" height="3.0" fill="#fff" stroke="#111" stroke-width="0.9"/>
<rect x="440.6" y="184.2" width="3.0" height="3.0" fill="#fff" stroke="#111" stroke-width="0.9"/>
<rect x="441.4" y="195.7" width="3.0" height="3.0" fill="#fff" stroke="#111" stroke-width="0.9"/>
<rect x="442.4" y="203.0" width="3.0" height="3.0" fill="#fff" stroke="#111" stroke-width="0.9"/>
<rect x="442.7" y="191.8" width="3.0" height="3.0" fill="#fff" stroke="#111" stroke-width="0.9"/>
<rect x="443.7" y="188.8" width="3.0" height="3.0" fill="#fff" stroke="#111" stroke-width="0.9"/>
<rect x="444.7" y="176.2" width="3.0" height="3.0" fill="#fff" stroke="#111" stroke-width="0.9"/>
<rect x="444.7" y="176.4" width="3.0" height="3.0" fill="#fff" stroke="#111" stroke-width="0.9"/>
<rect x="444.7" y="194.7" width="3.0" height="3.0" fill="#fff" stroke="#111" stroke-width="0.9"/>
<rect x="445.7" y="162.3" width="3.0" height="3.0" fill="#fff" stroke="#111" stroke-width="0.9"/>
<rect x="446.7" y="147.7" width="3.0" height="3.0" fill="#fff" stroke="#111" stroke-width="0.9"/>
<rect x="446.7" y="149.5" width="3.0" height="3.0" fill="#fff" stroke="#111" stroke-width="0.9"/>
<rect x="447.3" y="156.8" width="3.0" height="3.0" fill="#fff" stroke="#111" stroke-width="0.9"/>
<rect x="447.7" y="143.8" width="3.0" height="3.0" fill="#fff" stroke="#111" stroke-width="0.9"/>
<rect x="448.6" y="133.4" width="3.0" height="3.0" fill="#fff" stroke="#111" stroke-width="0.9"/>
<rect x="449.2" y="102.2" width="3.0" height="3.0" fill="#fff" stroke="#111" stroke-width="0.9"/>
<rect x="450.0" y="94.9" width="3.0" height="3.0" fill="#fff" stroke="#111" stroke-width="0.9"/>
<rect x="450.6" y="53.4" width="3.0" height="3.0" fill="#fff" stroke="#111" stroke-width="0.9"/>
<rect x="450.6" y="74.2" width="3.0" height="3.0" fill="#fff" stroke="#111" stroke-width="0.9"/>
<rect x="451.6" y="62.4" width="3.0" height="3.0" fill="#fff" stroke="#111" stroke-width="0.9"/>
<rect x="452.0" y="60.7" width="3.0" height="3.0" fill="#fff" stroke="#111" stroke-width="0.9"/>
<rect x="452.6" y="66.0" width="3.0" height="3.0" fill="#fff" stroke="#111" stroke-width="0.9"/>
<rect x="453.6" y="51.3" width="3.0" height="3.0" fill="#fff" stroke="#111" stroke-width="0.9"/>
<rect x="454.5" y="68.7" width="3.0" height="3.0" fill="#fff" stroke="#111" stroke-width="0.9"/>
<rect x="454.5" y="112.9" width="3.0" height="3.0" fill="#fff" stroke="#111" stroke-width="0.9"/>
<rect x="455.5" y="156.4" width="3.0" height="3.0" fill="#fff" stroke="#111" stroke-width="0.9"/>
<rect x="455.5" y="184.9" width="3.0" height="3.0" fill="#fff" stroke="#111" stroke-width="0.9"/>
<rect x="455.8" y="185.1" width="3.0" height="3.0" fill="#fff" stroke="#111" stroke-width="0.9"/>
<rect x="456.2" y="190.5" width="3.0" height="3.0" fill="#fff" stroke="#111" stroke-width="0.9"/>
<rect x="456.5" y="190.2" width="3.0" height="3.0" fill="#fff" stroke="#111" stroke-width="0.9"/>
<rect x="457.5" y="180.0" width="3.0" height="3.0" fill="#fff" stroke="#111" stroke-width="0.9"/>
<rect x="457.6" y="180.7" width="3.0" height="3.0" fill="#fff" stroke="#111" stroke-width="0.9"/>
<rect x="459.1" y="180.9" width="3.0" height="3.0" fill="#fff" stroke="#111" stroke-width="0.9"/>
<rect x="459.5" y="150.3" width="3.0" height="3.0" fill="#fff" stroke="#111" stroke-width="0.9"/>
<rect x="459.5" y="150.5" width="3.0" height="3.0" fill="#fff" stroke="#111" stroke-width="0.9"/>
<rect x="459.9" y="103.3" width="3.0" height="3.0" fill="#fff" stroke="#111" stroke-width="0.9"/>
<rect x="461.0" y="133.0" width="3.0" height="3.0" fill="#fff" stroke="#111" stroke-width="0.9"/>
<rect x="461.8" y="141.8" width="3.0" height="3.0" fill="#fff" stroke="#111" stroke-width="0.9"/>
<rect x="462.4" y="95.5" width="3.0" height="3.0" fill="#fff" stroke="#111" stroke-width="0.9"/>
<rect x="463.4" y="36.1" width="3.0" height="3.0" fill="#fff" stroke="#111" stroke-width="0.9"/>
<rect x="463.8" y="30.8" width="3.0" height="3.0" fill="#fff" stroke="#111" stroke-width="0.9"/>
<rect x="465.0" y="24.3" width="3.0" height="3.0" fill="#fff" stroke="#111" stroke-width="0.9"/>
<rect x="465.4" y="44.0" width="3.0" height="3.0" fill="#fff" stroke="#111" stroke-width="0.9"/>
<rect x="466.3" y="54.4" width="3.0" height="3.0" fill="#fff" stroke="#111" stroke-width="0.9"/>
<rect x="466.3" y="59.7" width="3.0" height="3.0" fill="#fff" stroke="#111" stroke-width="0.9"/>
<rect x="466.9" y="59.5" width="3.0" height="3.0" fill="#fff" stroke="#111" stroke-width="0.9"/>
<rect x="467.3" y="38.7" width="3.0" height="3.0" fill="#fff" stroke="#111" stroke-width="0.9"/>
<rect x="467.3" y="65.4" width="3.0" height="3.0" fill="#fff" stroke="#111" stroke-width="0.9"/>
<rect x="468.3" y="94.3" width="3.0" height="3.0" fill="#fff" stroke="#111" stroke-width="0.9"/>
<rect x="469.3" y="101.8" width="3.0" height="3.0" fill="#fff" stroke="#111" stroke-width="0.9"/>
<rect x="469.3" y="111.4" width="3.0" height="3.0" fill="#fff" stroke="#111" stroke-width="0.9"/>
<rect x="470.3" y="123.2" width="3.0" height="3.0" fill="#fff" stroke="#111" stroke-width="0.9"/>
<rect x="471.3" y="194.1" width="3.0" height="3.0" fill="#fff" stroke="#111" stroke-width="0.9"/>
<rect x="471.7" y="173.7" width="3.0" height="3.0" fill="#fff" stroke="#111" stroke-width="0.9"/>
<rect x="472.8" y="142.8" width="3.0" height="3.0" fill="#fff" stroke="#111" stroke-width="0.9"/>
<rect x="473.2" y="129.1" width="3.0" height="3.0" fill="#fff" stroke="#111" stroke-width="0.9"/>
<rect x="473.2" y="151.5" width="3.0" height="3.0" fill="#fff" stroke="#111" stroke-width="0.9"/>
<rect x="475.2" y="157.3" width="3.0" height="3.0" fill="#fff" stroke="#111" stroke-width="0.9"/>
<rect x="477.2" y="124.1" width="3.0" height="3.0" fill="#fff" stroke="#111" stroke-width="0.9"/>
<rect x="477.2" y="130.0" width="3.0" height="3.0" fill="#fff" stroke="#111" stroke-width="0.9"/>
<rect x="478.1" y="118.2" width="3.0" height="3.0" fill="#fff" stroke="#111" stroke-width="0.9"/>
<rect x="478.1" y="150.3" width="3.0" height="3.0" fill="#fff" stroke="#111" stroke-width="0.9"/>
<rect x="478.1" y="150.9" width="3.0" height="3.0" fill="#fff" stroke="#111" stroke-width="0.9"/>
<rect x="479.1" y="105.9" width="3.0" height="3.0" fill="#fff" stroke="#111" stroke-width="0.9"/>
<rect x="479.5" y="105.7" width="3.0" height="3.0" fill="#fff" stroke="#111" stroke-width="0.9"/>
<rect x="480.1" y="111.8" width="3.0" height="3.0" fill="#fff" stroke="#111" stroke-width="0.9"/>
<rect x="481.1" y="97.4" width="3.0" height="3.0" fill="#fff" stroke="#111" stroke-width="0.9"/>
<rect x="482.1" y="59.1" width="3.0" height="3.0" fill="#fff" stroke="#111" stroke-width="0.9"/>
<rect x="482.1" y="59.5" width="3.0" height="3.0" fill="#fff" stroke="#111" stroke-width="0.9"/>
<rect x="38.0" y="5.8" width="456.0" height="210.0" fill="none" stroke="#1a1a1a" stroke-width="1.5"/>
<line x1="38.0" y1="205.7" x2="43.0" y2="205.7" stroke="#1a1a1a" stroke-width="1.3"/>
<text x="32" y="209.3" text-anchor="end" font-size="12">0</text>
<line x1="38.0" y1="185.7" x2="43.0" y2="185.7" stroke="#1a1a1a" stroke-width="1.3"/>
<text x="32" y="189.3" text-anchor="end" font-size="12">2</text>
<line x1="38.0" y1="165.7" x2="43.0" y2="165.7" stroke="#1a1a1a" stroke-width="1.3"/>
<text x="32" y="169.3" text-anchor="end" font-size="12">4</text>
<line x1="38.0" y1="145.7" x2="43.0" y2="145.7" stroke="#1a1a1a" stroke-width="1.3"/>
<text x="32" y="149.3" text-anchor="end" font-size="12">6</text>
<line x1="38.0" y1="125.7" x2="43.0" y2="125.7" stroke="#1a1a1a" stroke-width="1.3"/>
<text x="32" y="129.3" text-anchor="end" font-size="12">8</text>
<line x1="38.0" y1="105.7" x2="43.0" y2="105.7" stroke="#1a1a1a" stroke-width="1.3"/>
<text x="32" y="109.3" text-anchor="end" font-size="12">10</text>
<line x1="38.0" y1="85.7" x2="43.0" y2="85.7" stroke="#1a1a1a" stroke-width="1.3"/>
<text x="32" y="89.3" text-anchor="end" font-size="12">12</text>
<line x1="38.0" y1="65.7" x2="43.0" y2="65.7" stroke="#1a1a1a" stroke-width="1.3"/>
<text x="32" y="69.3" text-anchor="end" font-size="12">14</text>
<line x1="38.0" y1="45.7" x2="43.0" y2="45.7" stroke="#1a1a1a" stroke-width="1.3"/>
<text x="32" y="49.3" text-anchor="end" font-size="12">16</text>
<line x1="38.0" y1="25.7" x2="43.0" y2="25.7" stroke="#1a1a1a" stroke-width="1.3"/>
<text x="32" y="29.3" text-anchor="end" font-size="12">18</text>
<line x1="38.0" y1="5.7" x2="43.0" y2="5.7" stroke="#1a1a1a" stroke-width="1.3"/>
<text x="32" y="9.3" text-anchor="end" font-size="12">20</text>
<line x1="489.0" y1="207.0" x2="494.0" y2="207.0" stroke="#1a1a1a" stroke-width="1.3"/>
<text x="499.5" y="211.0" font-size="12">0</text>
<line x1="489.0" y1="162.3" x2="494.0" y2="162.3" stroke="#1a1a1a" stroke-width="1.3"/>
<text x="499.5" y="166.3" font-size="12">1</text>
<line x1="489.0" y1="117.7" x2="494.0" y2="117.7" stroke="#1a1a1a" stroke-width="1.3"/>
<text x="499.5" y="121.7" font-size="12">2</text>
<line x1="489.0" y1="73.1" x2="494.0" y2="73.1" stroke="#1a1a1a" stroke-width="1.3"/>
<text x="499.5" y="77.1" font-size="12">3</text>
<line x1="489.0" y1="28.4" x2="494.0" y2="28.4" stroke="#1a1a1a" stroke-width="1.3"/>
<text x="499.5" y="32.4" font-size="12">4</text>
<line x1="43.8" y1="215.8" x2="43.8" y2="210.8" stroke="#1a1a1a" stroke-width="1.3"/>
<text x="43.8" y="231.5" text-anchor="middle" font-size="12">0</text>
<line x1="74.1" y1="215.8" x2="74.1" y2="210.8" stroke="#1a1a1a" stroke-width="1.3"/>
<text x="74.1" y="231.5" text-anchor="middle" font-size="12">50</text>
<line x1="104.4" y1="215.8" x2="104.4" y2="210.8" stroke="#1a1a1a" stroke-width="1.3"/>
<text x="104.4" y="231.5" text-anchor="middle" font-size="12">100</text>
<line x1="134.7" y1="215.8" x2="134.7" y2="210.8" stroke="#1a1a1a" stroke-width="1.3"/>
<text x="134.7" y="231.5" text-anchor="middle" font-size="12">150</text>
<line x1="164.9" y1="215.8" x2="164.9" y2="210.8" stroke="#1a1a1a" stroke-width="1.3"/>
<text x="164.9" y="231.5" text-anchor="middle" font-size="12">200</text>
<line x1="195.2" y1="215.8" x2="195.2" y2="210.8" stroke="#1a1a1a" stroke-width="1.3"/>
<text x="195.2" y="231.5" text-anchor="middle" font-size="12">250</text>
<line x1="225.5" y1="215.8" x2="225.5" y2="210.8" stroke="#1a1a1a" stroke-width="1.3"/>
<text x="225.5" y="231.5" text-anchor="middle" font-size="12">300</text>
<line x1="255.8" y1="215.8" x2="255.8" y2="210.8" stroke="#1a1a1a" stroke-width="1.3"/>
<text x="255.8" y="231.5" text-anchor="middle" font-size="12">350</text>
<line x1="286.1" y1="215.8" x2="286.1" y2="210.8" stroke="#1a1a1a" stroke-width="1.3"/>
<text x="286.1" y="231.5" text-anchor="middle" font-size="12">400</text>
<line x1="316.4" y1="215.8" x2="316.4" y2="210.8" stroke="#1a1a1a" stroke-width="1.3"/>
<text x="316.4" y="231.5" text-anchor="middle" font-size="12">450</text>
<line x1="346.7" y1="215.8" x2="346.7" y2="210.8" stroke="#1a1a1a" stroke-width="1.3"/>
<text x="346.7" y="231.5" text-anchor="middle" font-size="12">500</text>
<line x1="376.9" y1="215.8" x2="376.9" y2="210.8" stroke="#1a1a1a" stroke-width="1.3"/>
<text x="376.9" y="231.5" text-anchor="middle" font-size="12">550</text>
<line x1="407.2" y1="215.8" x2="407.2" y2="210.8" stroke="#1a1a1a" stroke-width="1.3"/>
<text x="407.2" y="231.5" text-anchor="middle" font-size="12">600</text>
<line x1="437.5" y1="215.8" x2="437.5" y2="210.8" stroke="#1a1a1a" stroke-width="1.3"/>
<text x="437.5" y="231.5" text-anchor="middle" font-size="12">650</text>
<line x1="467.8" y1="215.8" x2="467.8" y2="210.8" stroke="#1a1a1a" stroke-width="1.3"/>
<text x="467.8" y="231.5" text-anchor="middle" font-size="12">700</text>
<text x="155" y="251" font-size="14" textLength="221.6" lengthAdjust="spacingAndGlyphs">Time of wind blown treatment (hour)</text>
<text transform="translate(15,170.2) rotate(-90)" font-size="14">Wind speed (m s</text>
<text transform="translate(7.1,65.5) rotate(-90)" font-size="7.5" letter-spacing="1">-1</text>
<text transform="translate(15,57.4) rotate(-90)" font-size="14">)</text>
<text transform="translate(521.5,176.2) rotate(-90)" font-size="13.9">Precipitation (mm)</text>
<line x1="55.7" y1="17.9" x2="64" y2="17.9" stroke="#333" stroke-width="1.1"/>
<line x1="74" y1="17.9" x2="81.7" y2="17.9" stroke="#333" stroke-width="1.1"/>
<rect x="67.2" y="16.3" width="3.2" height="3.2" fill="#fff" stroke="#111" stroke-width="1"/>
<text x="86" y="21.9" font-size="11.5" textLength="61.3" lengthAdjust="spacingAndGlyphs">Wind speed</text>
<rect x="151.9" y="12.8" width="26.2" height="10.4" fill="#0000ff"/>
<text x="181.2" y="21.9" font-size="11.5" textLength="64.3" lengthAdjust="spacingAndGlyphs">Precipitation</text>
<text x="130.6" y="45.3" font-size="11.5" textLength="160.6" lengthAdjust="spacing">Average wind speed=5.82 m s</text>
<text x="290.9" y="38.7" font-size="6.2" letter-spacing="0.9">-1</text>
<text x="131.6" y="59.5" font-size="11.6" textLength="143.8" lengthAdjust="spacing">Total precipitation=40.4 mm</text>
</svg>
</body></html>
